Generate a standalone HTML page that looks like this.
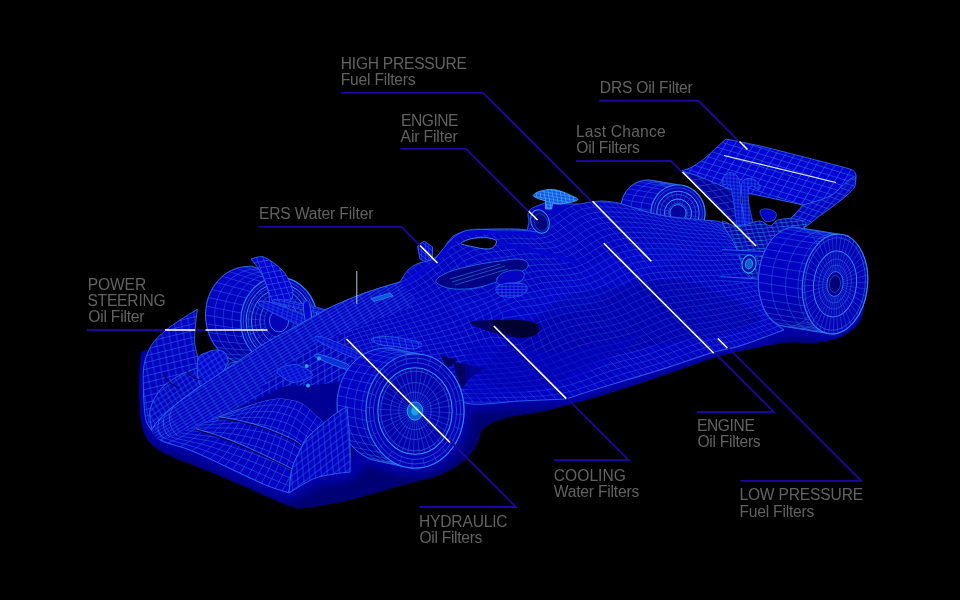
<!DOCTYPE html>
<html><head><meta charset="utf-8"><title>F1 Filters</title>
<style>
html,body{margin:0;padding:0;background:#000;}
body{position:relative;width:960px;height:600px;overflow:hidden;font-family:"Liberation Sans",sans-serif;}
svg{display:block}
#labels{position:absolute;left:0;top:0;width:960px;height:600px;filter:grayscale(1);pointer-events:none}
.lb{position:absolute;white-space:nowrap;font-family:"Liberation Sans",sans-serif;font-size:15.6px;line-height:20px;height:20px;color:#626260}
</style></head><body>
<svg width="960" height="600" viewBox="0 0 960 600">
<rect width="960" height="600" fill="#000"/>
<defs><pattern id="p1" width="7.25" height="7.25" patternUnits="userSpaceOnUse" patternTransform="matrix(0.9397 -0.3420 0.5736 0.8192 0 0)"><path d="M0,3.62H7.25M3.62,0V7.25" stroke="#2a64e2" stroke-width="0.78" stroke-opacity="0.75" fill="none"/></pattern><pattern id="p2" width="7.21" height="6.70" patternUnits="userSpaceOnUse" patternTransform="matrix(0.9703 -0.2419 0.4695 0.8829 0 0)"><path d="M0,3.35H7.21M3.61,0V6.70" stroke="#2a64e2" stroke-width="0.77" stroke-opacity="0.75" fill="none"/></pattern><pattern id="p3" width="9.00" height="2.90" patternUnits="userSpaceOnUse" patternTransform="matrix(0.8572 -0.5150 0.5299 0.8480 0 0)"><path d="M0,1.45H9.00M4.50,0V2.90" stroke="#2a64e2" stroke-width="0.70" stroke-opacity="0.75" fill="none"/></pattern><pattern id="p4" width="8.28" height="6.21" patternUnits="userSpaceOnUse" patternTransform="matrix(0.9563 0.2924 0.5299 -0.8480 0 0)"><path d="M0,3.11H8.28M4.14,0V6.21" stroke="#2a64e2" stroke-width="0.78" stroke-opacity="0.75" fill="none"/></pattern><pattern id="p5" width="8.32" height="5.20" patternUnits="userSpaceOnUse" patternTransform="matrix(0.9781 -0.2079 0.4695 0.8829 0 0)"><path d="M0,2.60H8.32M4.16,0V5.20" stroke="#2a64e2" stroke-width="0.78" stroke-opacity="0.75" fill="none"/></pattern><pattern id="p6" width="7.02" height="6.52" patternUnits="userSpaceOnUse" patternTransform="matrix(0.9703 -0.2419 0.1736 0.9848 0 0)"><path d="M0,3.26H7.02M3.51,0V6.52" stroke="#2a64e2" stroke-width="0.75" stroke-opacity="0.75" fill="none"/></pattern><pattern id="p7" width="10.73" height="7.15" patternUnits="userSpaceOnUse" patternTransform="matrix(0.9563 -0.2924 0.7660 0.6428 0 0)"><path d="M0,3.58H10.73M5.37,0V7.15" stroke="#2a64e2" stroke-width="0.89" stroke-opacity="0.75" fill="none"/></pattern><clipPath id="c8"><path d="M141.0,352.0C140.5,359.7 139.8,367.0 139.5,375.0C139.2,383.0 139.1,391.7 139.5,400.0C139.9,408.3 140.2,417.8 142.0,425.0C143.8,432.2 145.3,437.8 150.0,443.0C154.7,448.2 161.7,451.8 170.0,456.0C178.3,460.2 191.7,464.7 200.0,468.0C208.3,471.3 211.7,472.5 220.0,476.0C228.3,479.5 241.7,485.3 250.0,489.0C258.3,492.7 263.0,495.0 270.0,498.0C277.0,501.0 286.2,505.3 292.0,507.0C297.8,508.7 295.3,509.2 305.0,508.0C314.7,506.8 334.2,503.7 350.0,500.0C365.8,496.3 385.0,490.2 400.0,486.0C415.0,481.8 429.2,479.3 440.0,475.0C450.8,470.7 458.7,465.5 465.0,460.0C471.3,454.5 474.8,447.3 478.0,442.0C481.2,436.7 479.3,432.0 484.0,428.0C488.7,424.0 496.7,420.7 506.0,418.0C515.3,415.3 529.8,414.2 540.0,412.0C550.2,409.8 557.0,407.7 567.0,405.0C577.0,402.3 586.2,400.2 600.0,396.0C613.8,391.8 631.2,386.3 650.0,380.0C668.8,373.7 697.2,363.0 713.0,358.0C728.8,353.0 733.0,352.5 745.0,350.0C757.0,347.5 773.8,344.2 785.0,343.0C796.2,341.8 803.2,343.8 812.0,343.0C820.8,342.2 830.7,340.8 838.0,338.0C845.3,335.2 851.8,330.3 856.0,326.0C860.2,321.7 861.7,317.2 863.0,312.0C864.3,306.8 863.7,300.7 864.0,295.0C859.3,280.0 854.7,265.0 850.0,250.0C833.3,245.0 816.7,240.0 800.0,235.0C766.7,256.7 733.3,278.3 700.0,300.0C633.3,316.7 566.7,333.3 500.0,350.0C433.3,360.0 366.7,370.0 300.0,380.0C266.7,363.3 233.3,346.7 200.0,330.0C180.3,337.3 160.7,344.7 141.0,352.0Z"/></clipPath><filter id="gblur" x="-5%" y="-5%" width="110%" height="110%"><feGaussianBlur stdDeviation="3.5"/></filter><clipPath id="c9"><path d="M704.7,209.2C704.9,210.4 705.0,211.7 705.0,212.9C705.0,214.1 705.0,215.3 704.8,216.5C704.7,217.8 704.5,219.0 704.2,220.1C703.9,221.3 703.5,222.5 703.1,223.6C702.7,224.7 702.2,225.8 701.6,226.9C701.0,228.0 700.4,229.0 699.7,229.9C699.0,230.9 698.2,231.8 697.4,232.7C696.5,233.6 695.7,234.4 694.7,235.1C693.8,235.9 692.8,236.6 691.8,237.2C690.8,237.8 689.8,238.3 688.7,238.8C687.6,239.3 686.5,239.7 685.4,240.0C684.2,240.3 683.1,240.6 681.9,240.7C680.7,240.9 679.5,241.0 678.4,241.0C677.2,241.0 681.0,241.7 674.8,240.8C668.7,239.8 647.5,236.2 641.4,235.1C635.2,233.9 639.1,234.4 638.0,233.9C636.9,233.4 635.8,232.9 634.8,232.3C633.8,231.7 632.8,231.0 631.8,230.3C630.9,229.5 630.0,228.7 629.2,227.9C628.3,227.0 627.5,226.1 626.8,225.1C626.1,224.2 625.4,223.1 624.8,222.1C624.2,221.0 623.6,219.9 623.2,218.8C622.7,217.7 622.3,216.5 622.0,215.3C621.7,214.2 621.4,213.0 621.3,211.8C621.1,210.6 621.0,209.3 621.0,208.1C621.0,206.9 621.0,205.7 621.2,204.5C621.3,203.2 621.5,202.0 621.8,200.9C622.1,199.7 622.5,198.5 622.9,197.4C623.3,196.3 623.8,195.2 624.4,194.1C625.0,193.0 625.6,192.0 626.3,191.1C627.0,190.1 627.8,189.2 628.6,188.3C629.5,187.4 630.3,186.6 631.3,185.9C632.2,185.1 633.2,184.4 634.2,183.8C635.2,183.2 636.2,182.7 637.3,182.2C638.4,181.7 639.5,181.3 640.6,181.0C641.8,180.7 642.9,180.4 644.1,180.3C645.3,180.1 646.5,180.0 647.6,180.0C648.8,180.0 645.0,179.3 651.2,180.2C657.3,181.2 678.5,184.8 684.6,185.9C690.8,187.1 686.9,186.6 688.0,187.1C689.1,187.6 690.2,188.1 691.2,188.7C692.2,189.3 693.2,190.0 694.2,190.7C695.1,191.5 696.0,192.3 696.8,193.1C697.7,194.0 698.5,194.9 699.2,195.9C699.9,196.8 700.6,197.9 701.2,198.9C701.8,200.0 702.4,201.1 702.8,202.2C703.3,203.3 703.7,204.5 704.0,205.7C704.3,206.8 704.6,208.0 704.7,209.2Z"/></clipPath><linearGradient id="g10" x1="0.3" y1="0" x2="0.5" y2="1"><stop offset="0" stop-color="#0303cc"/><stop offset="0.55" stop-color="#0202bc"/><stop offset="1" stop-color="#01019a"/></linearGradient><pattern id="p11" width="8.55" height="7.32" patternUnits="userSpaceOnUse" patternTransform="matrix(0.7071 0.7071 0.9848 -0.1736 0 0)"><path d="M0,3.66H8.55M4.27,0V7.32" stroke="#2a64e2" stroke-width="0.92" stroke-opacity="0.6" fill="none"/></pattern><pattern id="p12" width="6.39" height="5.32" patternUnits="userSpaceOnUse" patternTransform="matrix(0.6428 -0.7660 0.9397 0.3420 0 0)"><path d="M0,2.66H6.39M3.19,0V5.32" stroke="#2a64e2" stroke-width="0.80" stroke-opacity="0.75" fill="none"/></pattern><pattern id="p13" width="3.53" height="3.53" patternUnits="userSpaceOnUse" patternTransform="matrix(0.9962 0.0872 0.0349 0.9994 0 0)"><path d="M0,1.76H3.53M1.76,0V3.53" stroke="#2a64e2" stroke-width="0.76" stroke-opacity="0.75" fill="none"/></pattern><clipPath id="c14"><path d="M228.0,366.0C229.7,361.0 233.5,364.0 240.0,360.0C246.5,356.0 257.8,347.5 267.0,342.0C276.2,336.5 285.3,332.3 295.0,327.0C304.7,321.7 314.7,315.2 325.0,310.0C335.3,304.8 347.8,299.7 357.0,296.0C366.2,292.3 372.8,290.3 380.0,288.0C387.2,285.7 393.3,284.0 400.0,282.0C402.7,278.0 405.2,273.0 408.0,270.0C410.8,267.0 413.8,265.5 417.0,264.0C420.2,262.5 424.3,261.8 427.0,261.0C429.7,260.2 430.5,260.7 433.0,259.0C435.5,257.3 439.5,253.8 442.0,251.0C444.5,248.2 445.8,244.7 448.0,242.0C450.2,239.3 451.8,236.8 455.0,235.0C458.2,233.2 462.8,231.9 467.0,231.0C471.2,230.1 475.8,229.8 480.0,229.5C484.2,229.2 485.8,229.1 492.0,229.0C498.2,228.9 511.2,228.8 517.0,229.0C522.8,229.2 523.7,229.7 527.0,230.0C527.7,227.3 528.8,224.7 529.0,222.0C529.2,219.3 527.7,216.2 528.0,214.0C528.3,211.8 529.5,210.3 531.0,209.0C532.5,207.7 534.7,207.0 537.0,206.0C539.3,205.0 542.3,204.0 545.0,203.0C555.7,203.3 569.5,204.2 577.0,204.0C584.5,203.8 585.8,202.5 590.0,202.0C594.2,201.5 598.3,201.0 602.0,201.0C605.7,201.0 608.7,201.5 612.0,202.0C615.3,202.5 614.0,201.8 622.0,204.0C630.0,206.2 646.5,212.3 660.0,215.0C673.5,217.7 693.0,218.8 703.0,220.0C713.0,221.2 713.8,220.0 720.0,222.0C726.2,224.0 734.0,228.0 740.0,232.0C746.0,236.0 752.3,241.0 756.0,246.0C759.7,251.0 761.3,256.0 762.0,262.0C762.7,268.0 759.5,273.7 760.0,282.0C760.5,290.3 761.0,304.0 765.0,312.0C769.0,320.0 777.7,324.0 784.0,330.0C769.3,335.3 751.8,342.2 740.0,346.0C728.2,349.8 726.3,348.5 713.0,352.5C699.7,356.5 678.8,364.1 660.0,370.0C641.2,375.9 615.7,383.2 600.0,388.0C584.3,392.8 577.3,395.3 566.0,399.0C550.7,399.7 536.8,400.3 520.0,401.0C503.2,401.7 478.3,406.5 465.0,403.0C451.7,399.5 450.8,387.2 440.0,380.0C429.2,372.8 413.3,362.5 400.0,360.0C386.7,357.5 370.0,360.0 360.0,365.0C350.0,370.0 344.2,383.3 340.0,390.0C335.8,396.7 341.7,401.7 335.0,405.0C328.3,408.3 312.5,410.0 300.0,410.0C287.5,410.0 271.7,408.3 260.0,405.0C248.3,401.7 235.3,396.5 230.0,390.0C224.7,383.5 226.3,371.0 228.0,366.0Z"/></clipPath><pattern id="p15" width="4.00" height="3.00" patternUnits="userSpaceOnUse" patternTransform="matrix(1.0000 0.0000 0.0000 1.0000 0 0)"><path d="M0,1.50H4.00M2.00,0V3.00" stroke="#2a64e2" stroke-width="0.75" stroke-opacity="0.7" fill="none"/></pattern><pattern id="p16" width="4.26" height="3.19" patternUnits="userSpaceOnUse" patternTransform="matrix(0.9848 0.1736 0.1736 0.9848 0 0)"><path d="M0,1.60H4.26M2.13,0V3.19" stroke="#5cc0ff" stroke-width="0.80" stroke-opacity="0.7" fill="none"/></pattern><pattern id="p17" width="4.57" height="4.57" patternUnits="userSpaceOnUse" patternTransform="matrix(0.7660 0.6428 0.0000 1.0000 0 0)"><path d="M0,2.28H4.57M2.28,0V4.57" stroke="#2a64e2" stroke-width="0.98" stroke-opacity="0.7" fill="none"/></pattern><pattern id="p18" width="5.18" height="4.14" patternUnits="userSpaceOnUse" patternTransform="matrix(0.9962 -0.0872 0.3420 0.9397 0 0)"><path d="M0,2.07H5.18M2.59,0V4.14" stroke="#2aa0f0" stroke-width="0.78" stroke-opacity="0.6" fill="none"/></pattern><clipPath id="c19"><path d="M867.3,287.4C867.1,289.6 866.8,291.7 866.4,293.9C866.0,296.0 865.5,298.1 864.9,300.2C864.3,302.2 863.6,304.2 862.9,306.2C862.1,308.1 861.3,310.0 860.4,311.8C859.5,313.6 858.5,315.3 857.5,317.0C856.4,318.6 855.3,320.1 854.2,321.6C853.0,323.0 851.8,324.3 850.5,325.5C849.3,326.7 848.0,327.8 846.6,328.8C845.3,329.7 843.9,330.5 842.5,331.2C841.2,331.9 839.7,332.5 838.3,332.9C836.9,333.3 835.5,333.6 834.0,333.7C832.6,333.9 838.5,335.0 829.8,333.7C821.0,332.4 790.3,327.5 781.6,325.9C772.9,324.3 778.9,324.9 777.6,324.2C776.3,323.4 775.0,322.6 773.8,321.6C772.6,320.7 771.4,319.6 770.3,318.4C769.2,317.2 768.2,315.8 767.2,314.4C766.2,312.9 765.3,311.4 764.4,309.8C763.6,308.1 762.9,306.4 762.2,304.6C761.5,302.8 760.9,300.9 760.4,298.9C759.9,297.0 759.5,294.9 759.1,292.9C758.8,290.8 758.6,288.7 758.4,286.6C758.3,284.5 758.2,282.3 758.3,280.1C758.3,278.0 758.5,275.8 758.7,273.6C758.9,271.4 759.2,269.3 759.6,267.1C760.0,265.0 760.5,262.9 761.1,260.8C761.7,258.8 762.4,256.8 763.1,254.8C763.9,252.9 764.7,251.0 765.6,249.2C766.5,247.4 767.5,245.7 768.5,244.0C769.6,242.4 770.7,240.9 771.8,239.4C773.0,238.0 774.2,236.7 775.5,235.5C776.7,234.3 778.0,233.2 779.4,232.2C780.7,231.3 782.1,230.5 783.5,229.8C784.8,229.1 786.3,228.5 787.7,228.1C789.1,227.7 790.5,227.4 792.0,227.3C793.4,227.1 787.5,226.0 796.2,227.3C805.0,228.6 835.7,233.5 844.4,235.1C853.1,236.7 847.1,236.1 848.4,236.8C849.7,237.6 851.0,238.4 852.2,239.4C853.4,240.3 854.6,241.4 855.7,242.6C856.8,243.8 857.8,245.2 858.8,246.6C859.8,248.1 860.7,249.6 861.6,251.2C862.4,252.9 863.1,254.6 863.8,256.4C864.5,258.2 865.1,260.1 865.6,262.1C866.1,264.0 866.5,266.1 866.9,268.1C867.2,270.2 867.4,272.3 867.6,274.4C867.7,276.5 867.8,278.7 867.7,280.9C867.7,283.0 867.5,285.2 867.3,287.4Z"/></clipPath><linearGradient id="g20" x1="0.3" y1="0" x2="0.5" y2="1"><stop offset="0" stop-color="#0303cc"/><stop offset="0.55" stop-color="#0202bc"/><stop offset="1" stop-color="#01019a"/></linearGradient><clipPath id="c21"><path d="M317.2,321.0C317.2,322.9 317.1,324.8 316.9,326.7C316.7,328.6 316.4,330.5 315.9,332.3C315.5,334.1 315.0,335.9 314.3,337.7C313.7,339.5 313.0,341.2 312.1,342.8C311.3,344.5 310.4,346.1 309.3,347.6C308.3,349.1 307.2,350.5 306.0,351.9C304.9,353.2 303.6,354.5 302.3,355.6C301.0,356.8 299.6,357.9 298.1,358.8C296.7,359.8 295.2,360.6 293.6,361.3C292.1,362.1 290.5,362.7 288.9,363.2C287.3,363.7 285.6,364.0 284.0,364.3C282.3,364.5 280.7,364.6 279.0,364.6C277.3,364.6 281.0,364.7 274.0,364.3C267.0,363.8 244.0,362.6 237.0,361.8C230.0,361.1 233.4,360.6 231.7,359.8C230.0,359.0 228.4,358.1 226.8,357.0C225.1,355.9 223.6,354.8 222.1,353.5C220.7,352.2 219.3,350.8 217.9,349.3C216.6,347.8 215.4,346.2 214.3,344.5C213.2,342.9 212.1,341.1 211.2,339.2C210.3,337.4 209.4,335.5 208.7,333.6C208.0,331.6 207.4,329.6 206.9,327.6C206.5,325.5 206.1,323.4 205.9,321.3C205.6,319.2 205.5,317.1 205.5,315.0C205.5,312.9 205.6,310.8 205.9,308.7C206.1,306.6 206.5,304.5 206.9,302.4C207.4,300.4 208.0,298.4 208.7,296.4C209.4,294.5 210.3,292.6 211.2,290.8C212.1,288.9 213.2,287.1 214.3,285.5C215.4,283.8 216.6,282.2 217.9,280.7C219.3,279.2 220.7,277.8 222.1,276.5C223.6,275.2 225.1,274.1 226.7,273.0C228.4,271.9 230.0,271.0 231.7,270.2C233.4,269.4 235.2,268.7 237.0,268.2C238.8,267.6 240.6,267.2 242.5,266.9C244.3,266.6 246.2,266.5 248.0,266.5C249.8,266.5 246.7,264.9 253.5,266.9C260.4,269.0 282.2,276.5 288.9,278.8C295.6,281.1 292.1,279.9 293.6,280.7C295.2,281.4 296.7,282.2 298.1,283.2C299.6,284.1 301.0,285.2 302.3,286.4C303.6,287.5 304.9,288.8 306.0,290.1C307.2,291.5 308.3,292.9 309.3,294.4C310.4,295.9 311.3,297.5 312.1,299.2C313.0,300.8 313.7,302.5 314.3,304.3C315.0,306.1 315.5,307.9 315.9,309.7C316.4,311.5 316.7,313.4 316.9,315.3C317.1,317.2 317.2,319.1 317.2,321.0Z"/></clipPath><linearGradient id="g22" x1="0.3" y1="0" x2="0.5" y2="1"><stop offset="0" stop-color="#0303cc"/><stop offset="0.55" stop-color="#0202bc"/><stop offset="1" stop-color="#01019a"/></linearGradient><pattern id="p23" width="6.09" height="6.09" patternUnits="userSpaceOnUse" patternTransform="matrix(0.9848 -0.1736 0.3420 0.9397 0 0)"><path d="M0,3.05H6.09M3.05,0V6.09" stroke="#2a64e2" stroke-width="0.76" stroke-opacity="0.75" fill="none"/></pattern><pattern id="p24" width="5.11" height="3.07" patternUnits="userSpaceOnUse" patternTransform="matrix(0.9272 0.3746 -0.1736 0.9848 0 0)"><path d="M0,1.53H5.11M2.56,0V3.07" stroke="#2a64e2" stroke-width="0.77" stroke-opacity="0.7" fill="none"/></pattern><pattern id="p25" width="5.00" height="2.50" patternUnits="userSpaceOnUse" patternTransform="matrix(0.9781 0.2079 -0.1736 0.9848 0 0)"><path d="M0,1.25H5.00M2.50,0V2.50" stroke="#2a64e2" stroke-width="0.75" stroke-opacity="0.7" fill="none"/></pattern><pattern id="p26" width="5.02" height="5.02" patternUnits="userSpaceOnUse" patternTransform="matrix(0.8192 -0.5736 0.5000 0.8660 0 0)"><path d="M0,2.51H5.02M2.51,0V5.02" stroke="#2a64e2" stroke-width="0.75" stroke-opacity="0.75" fill="none"/></pattern><pattern id="p27" width="5.02" height="5.02" patternUnits="userSpaceOnUse" patternTransform="matrix(0.8192 -0.5736 0.5000 0.8660 0 0)"><path d="M0,2.51H5.02M2.51,0V5.02" stroke="#2a64e2" stroke-width="0.75" stroke-opacity="0.75" fill="none"/></pattern><pattern id="p28" width="7.93" height="6.80" patternUnits="userSpaceOnUse" patternTransform="matrix(0.8660 -0.5000 0.0349 0.9994 0 0)"><path d="M0,3.40H7.93M3.96,0V6.80" stroke="#2a64e2" stroke-width="0.85" stroke-opacity="0.8" fill="none"/></pattern><clipPath id="c29"><path d="M152.0,431.0C155.0,434.2 155.2,437.5 161.0,440.5C166.8,443.5 178.8,445.9 187.0,449.0C195.2,452.1 202.3,455.5 210.0,459.0C217.7,462.5 226.3,466.8 233.0,470.0C239.7,473.2 244.2,475.3 250.0,478.0C255.8,480.7 261.5,483.5 268.0,486.0C274.5,488.5 282.0,490.7 289.0,493.0C289.9,485.3 290.1,476.7 291.7,470.0C293.3,463.3 296.0,458.5 298.7,453.0C301.4,447.5 303.8,442.0 308.0,437.0C312.2,432.0 318.7,427.7 324.0,423.0C321.7,420.7 320.5,419.2 317.0,416.0C313.5,412.8 307.2,406.7 303.0,404.0C298.8,401.3 295.8,400.9 292.0,400.0C288.2,399.1 284.0,398.5 280.0,398.5C276.0,398.5 271.9,399.2 268.0,400.0C264.1,400.8 261.4,401.5 256.7,403.0C252.0,404.5 246.3,406.8 240.0,409.0C233.7,411.2 226.0,413.3 219.0,416.0C212.0,418.7 205.3,422.2 198.0,425.0C190.7,427.8 182.7,432.0 175.0,433.0C167.3,434.0 159.7,431.7 152.0,431.0Z"/></clipPath><pattern id="p30" width="5.11" height="3.07" patternUnits="userSpaceOnUse" patternTransform="matrix(0.9272 0.3746 -0.1736 0.9848 0 0)"><path d="M0,1.53H5.11M2.56,0V3.07" stroke="#2a64e2" stroke-width="0.77" stroke-opacity="0.6" fill="none"/></pattern><pattern id="p31" width="5.02" height="3.01" patternUnits="userSpaceOnUse" patternTransform="matrix(0.9063 -0.4226 0.5000 0.8660 0 0)"><path d="M0,1.51H5.02M2.51,0V3.01" stroke="#2a64e2" stroke-width="0.75" stroke-opacity="0.6" fill="none"/></pattern><clipPath id="c32"><path d="M464.0,411.0C464.0,413.5 463.9,416.0 463.6,418.4C463.3,420.9 462.9,423.4 462.3,425.8C461.8,428.1 461.1,430.5 460.3,432.8C459.5,435.1 458.5,437.4 457.4,439.5C456.4,441.6 455.2,443.7 453.9,445.7C452.6,447.7 451.2,449.6 449.6,451.3C448.1,453.1 446.5,454.7 444.8,456.2C443.1,457.7 441.3,459.1 439.5,460.4C437.7,461.6 435.7,462.7 433.8,463.7C431.8,464.6 429.7,465.4 427.7,466.1C425.6,466.7 423.5,467.2 421.4,467.5C419.3,467.8 417.1,468.0 415.0,468.0C412.9,468.0 415.6,468.8 408.6,467.5C401.7,466.2 380.2,461.7 373.3,460.1C366.4,458.4 369.2,458.6 367.2,457.7C365.3,456.7 363.3,455.6 361.5,454.4C359.7,453.1 357.9,451.7 356.2,450.2C354.5,448.7 352.9,447.1 351.4,445.3C349.8,443.6 348.4,441.7 347.1,439.7C345.8,437.7 344.6,435.6 343.6,433.5C342.5,431.4 341.5,429.1 340.7,426.8C339.9,424.5 339.2,422.1 338.7,419.8C338.1,417.4 337.7,414.9 337.4,412.4C337.1,410.0 337.0,407.5 337.0,405.0C337.0,402.5 337.1,400.0 337.4,397.6C337.7,395.1 338.1,392.6 338.7,390.2C339.2,387.9 339.9,385.5 340.7,383.2C341.5,380.9 342.5,378.6 343.6,376.5C344.6,374.4 345.8,372.3 347.1,370.3C348.4,368.3 349.8,366.4 351.4,364.7C352.9,362.9 354.5,361.3 356.2,359.8C357.9,358.3 359.7,356.9 361.5,355.6C363.3,354.4 365.3,353.3 367.2,352.3C369.2,351.4 371.3,350.6 373.3,349.9C375.4,349.3 377.5,348.8 379.6,348.5C381.7,348.2 383.9,348.0 386.0,348.0C388.1,348.0 385.4,347.2 392.4,348.5C399.3,349.8 420.8,354.3 427.7,355.9C434.6,357.6 431.8,357.4 433.8,358.3C435.7,359.3 437.7,360.4 439.5,361.6C441.3,362.9 443.1,364.3 444.8,365.8C446.5,367.3 448.1,368.9 449.6,370.7C451.2,372.4 452.6,374.3 453.9,376.3C455.2,378.3 456.4,380.4 457.4,382.5C458.5,384.6 459.5,386.9 460.3,389.2C461.1,391.5 461.8,393.9 462.3,396.2C462.9,398.6 463.3,401.1 463.6,403.6C463.9,406.0 464.0,408.5 464.0,411.0Z"/></clipPath><linearGradient id="g33" x1="0.3" y1="0" x2="0.5" y2="1"><stop offset="0" stop-color="#0303cc"/><stop offset="0.55" stop-color="#0202bc"/><stop offset="1" stop-color="#01019a"/></linearGradient><pattern id="p34" width="6.52" height="3.80" patternUnits="userSpaceOnUse" patternTransform="matrix(0.9903 0.1392 0.2588 0.9659 0 0)"><path d="M0,1.90H6.52M3.26,0V3.80" stroke="#2a64e2" stroke-width="0.81" stroke-opacity="0.8" fill="none"/></pattern><pattern id="p35" width="7.15" height="7.15" patternUnits="userSpaceOnUse" patternTransform="matrix(0.7880 -0.6157 0.0872 0.9962 0 0)"><path d="M0,3.58H7.15M3.58,0V7.15" stroke="#2a64e2" stroke-width="0.89" stroke-opacity="0.75" fill="none"/></pattern></defs><path d="M141.0,352.0C140.5,359.7 139.8,367.0 139.5,375.0C139.2,383.0 139.1,391.7 139.5,400.0C139.9,408.3 140.2,417.8 142.0,425.0C143.8,432.2 145.3,437.8 150.0,443.0C154.7,448.2 161.7,451.8 170.0,456.0C178.3,460.2 191.7,464.7 200.0,468.0C208.3,471.3 211.7,472.5 220.0,476.0C228.3,479.5 241.7,485.3 250.0,489.0C258.3,492.7 263.0,495.0 270.0,498.0C277.0,501.0 286.2,505.3 292.0,507.0C297.8,508.7 295.3,509.2 305.0,508.0C314.7,506.8 334.2,503.7 350.0,500.0C365.8,496.3 385.0,490.2 400.0,486.0C415.0,481.8 429.2,479.3 440.0,475.0C450.8,470.7 458.7,465.5 465.0,460.0C471.3,454.5 474.8,447.3 478.0,442.0C481.2,436.7 479.3,432.0 484.0,428.0C488.7,424.0 496.7,420.7 506.0,418.0C515.3,415.3 529.8,414.2 540.0,412.0C550.2,409.8 557.0,407.7 567.0,405.0C577.0,402.3 586.2,400.2 600.0,396.0C613.8,391.8 631.2,386.3 650.0,380.0C668.8,373.7 697.2,363.0 713.0,358.0C728.8,353.0 733.0,352.5 745.0,350.0C757.0,347.5 773.8,344.2 785.0,343.0C796.2,341.8 803.2,343.8 812.0,343.0C820.8,342.2 830.7,340.8 838.0,338.0C845.3,335.2 851.8,330.3 856.0,326.0C860.2,321.7 861.7,317.2 863.0,312.0C864.3,306.8 863.7,300.7 864.0,295.0C859.3,280.0 854.7,265.0 850.0,250.0C833.3,245.0 816.7,240.0 800.0,235.0C766.7,256.7 733.3,278.3 700.0,300.0C633.3,316.7 566.7,333.3 500.0,350.0C433.3,360.0 366.7,370.0 300.0,380.0C266.7,363.3 233.3,346.7 200.0,330.0C180.3,337.3 160.7,344.7 141.0,352.0Z" fill="#000074"  /><g clip-path="url(#c8)"><path d="M143.0,350.0 L143.0,370.0 L143.5,420.0 L152.0,431.0 L161.0,440.5 L187.0,449.0 L233.0,470.0 L268.0,486.0 L289.0,493.0 L313.0,479.0 L350.0,472.0 L362.0,455.0 L385.0,462.0 L405.0,467.0 L420.0,467.0 L438.0,461.0 L452.0,448.0 L461.0,430.0 L465.0,403.0 L520.0,401.0 L566.0,399.0 L600.0,388.0 L660.0,370.0 L713.0,352.5 L740.0,346.0 L784.0,330.0 L810.0,330.0 L826.0,335.0 L842.0,333.0 L856.0,322.0 L865.0,305.0" fill="none" stroke="#0000a6" stroke-width="17" stroke-linejoin="round" filter="url(#gblur)"/></g><path d="M195.0,309.0 L207.0,309.0 L207.0,335.0 L217.0,351.0 L199.0,362.0 L193.5,345.0Z" fill="#000"  /><g><path d="M704.7,209.2C704.9,210.4 705.0,211.7 705.0,212.9C705.0,214.1 705.0,215.3 704.8,216.5C704.7,217.8 704.5,219.0 704.2,220.1C703.9,221.3 703.5,222.5 703.1,223.6C702.7,224.7 702.2,225.8 701.6,226.9C701.0,228.0 700.4,229.0 699.7,229.9C699.0,230.9 698.2,231.8 697.4,232.7C696.5,233.6 695.7,234.4 694.7,235.1C693.8,235.9 692.8,236.6 691.8,237.2C690.8,237.8 689.8,238.3 688.7,238.8C687.6,239.3 686.5,239.7 685.4,240.0C684.2,240.3 683.1,240.6 681.9,240.7C680.7,240.9 679.5,241.0 678.4,241.0C677.2,241.0 681.0,241.7 674.8,240.8C668.7,239.8 647.5,236.2 641.4,235.1C635.2,233.9 639.1,234.4 638.0,233.9C636.9,233.4 635.8,232.9 634.8,232.3C633.8,231.7 632.8,231.0 631.8,230.3C630.9,229.5 630.0,228.7 629.2,227.9C628.3,227.0 627.5,226.1 626.8,225.1C626.1,224.2 625.4,223.1 624.8,222.1C624.2,221.0 623.6,219.9 623.2,218.8C622.7,217.7 622.3,216.5 622.0,215.3C621.7,214.2 621.4,213.0 621.3,211.8C621.1,210.6 621.0,209.3 621.0,208.1C621.0,206.9 621.0,205.7 621.2,204.5C621.3,203.2 621.5,202.0 621.8,200.9C622.1,199.7 622.5,198.5 622.9,197.4C623.3,196.3 623.8,195.2 624.4,194.1C625.0,193.0 625.6,192.0 626.3,191.1C627.0,190.1 627.8,189.2 628.6,188.3C629.5,187.4 630.3,186.6 631.3,185.9C632.2,185.1 633.2,184.4 634.2,183.8C635.2,183.2 636.2,182.7 637.3,182.2C638.4,181.7 639.5,181.3 640.6,181.0C641.8,180.7 642.9,180.4 644.1,180.3C645.3,180.1 646.5,180.0 647.6,180.0C648.8,180.0 645.0,179.3 651.2,180.2C657.3,181.2 678.5,184.8 684.6,185.9C690.8,187.1 686.9,186.6 688.0,187.1C689.1,187.6 690.2,188.1 691.2,188.7C692.2,189.3 693.2,190.0 694.2,190.7C695.1,191.5 696.0,192.3 696.8,193.1C697.7,194.0 698.5,194.9 699.2,195.9C699.9,196.8 700.6,197.9 701.2,198.9C701.8,200.0 702.4,201.1 702.8,202.2C703.3,203.3 703.7,204.5 704.0,205.7C704.3,206.8 704.6,208.0 704.7,209.2Z" fill="url(#g10)" stroke="#2a66ea" stroke-width="1"/><g clip-path="url(#c9)" fill="none" stroke="#2a64e2" stroke-width="0.65" stroke-opacity="0.8"><ellipse cx="648.0" cy="208.0" rx="27.0" ry="28.0" transform="rotate(-8 648.0 208.0)"/><ellipse cx="657.9" cy="209.7" rx="27.0" ry="28.0" transform="rotate(-8 657.9 209.7)"/><ellipse cx="667.8" cy="211.3" rx="27.0" ry="28.0" transform="rotate(-8 667.8 211.3)"/><path d="M674.7,204.2L704.7,209.2M674.9,210.5L704.9,215.5M673.8,216.6L703.8,221.6M671.3,222.3L701.3,227.3M667.7,227.3L697.7,232.3M663.1,231.4L693.1,236.4M657.7,234.2L687.7,239.2M651.9,235.7L681.9,240.7M645.8,235.9L675.8,240.9M639.9,234.6L669.9,239.6M634.4,232.0L664.4,237.0M629.5,228.2L659.5,233.2M625.6,223.4L655.6,228.4M622.8,217.8L652.8,222.8M621.3,211.8L651.3,216.8M621.1,205.5L651.1,210.5M622.2,199.4L652.2,204.4M624.7,193.7L654.7,198.7M628.3,188.7L658.3,193.7M632.9,184.6L662.9,189.6M638.3,181.8L668.3,186.8M644.1,180.3L674.1,185.3M650.2,180.1L680.2,185.1M656.1,181.4L686.1,186.4M661.6,184.0L691.6,189.0M666.5,187.8L696.5,192.8M670.4,192.6L700.4,197.6M673.2,198.2L703.2,203.2"/></g><ellipse cx="678.0" cy="213.0" rx="27.0" ry="28.0" transform="rotate(-8 678.0 213.0)" fill="#0202b6" stroke="#2a98f4" stroke-width="1.2" stroke-opacity="0.85"/><ellipse cx="678.0" cy="213.0" rx="24.3" ry="25.2" transform="rotate(-8 678.0 213.0)" fill="none" stroke="#2a64e2" stroke-width="0.7" stroke-opacity="1"/><ellipse cx="678.0" cy="213.0" rx="21.1" ry="21.8" transform="rotate(-8 678.0 213.0)" fill="#0202b0" stroke="#2a98f4" stroke-width="1.0" stroke-opacity="1"/><ellipse cx="678.0" cy="213.0" rx="17.8" ry="18.5" transform="rotate(-8 678.0 213.0)" fill="none" stroke="#2a64e2" stroke-width="0.7" stroke-opacity="1"/><ellipse cx="678.0" cy="213.0" rx="13.5" ry="14.0" transform="rotate(-8 678.0 213.0)" fill="none" stroke="#2fb0f8" stroke-width="0.9" stroke-opacity="1"/><ellipse cx="678.0" cy="213.0" rx="9.4" ry="9.8" transform="rotate(-8 678.0 213.0)" fill="none" stroke="#2a64e2" stroke-width="0.7" stroke-opacity="1"/><path d="M687.4,212.3L699.0,211.5M687.3,214.9L698.7,217.2M686.5,217.3L697.0,222.6M685.2,219.4L694.0,227.3M683.4,221.1L690.0,231.1M681.2,222.3L685.0,233.6M678.7,222.8L679.7,234.8M676.3,222.6L674.2,234.4M673.9,221.8L668.9,232.6M671.9,220.4L664.3,229.5M670.2,218.5L660.6,225.2M669.1,216.2L658.1,220.1M668.6,213.7L657.0,214.5M668.7,211.1L657.3,208.8M669.5,208.7L659.0,203.4M670.8,206.6L662.0,198.7M672.6,204.9L666.0,194.9M674.8,203.7L671.0,192.4M677.3,203.2L676.3,191.2M679.7,203.4L681.8,191.6M682.1,204.2L687.1,193.4M684.1,205.6L691.7,196.5M685.8,207.5L695.4,200.8M686.9,209.8L697.9,205.9" fill="none" stroke="#2a64e2" stroke-width="0.6" stroke-opacity="0.8"/><ellipse cx="678.0" cy="213.0" rx="8.1" ry="8.4" transform="rotate(-8 678.0 213.0)" fill="#0202a0" stroke="#2fb0f8" stroke-width="0.8" stroke-opacity="1"/></g><path d="M681.0,171.0C687.3,172.3 693.2,173.2 700.0,175.0C706.8,176.8 716.2,179.2 722.0,182.0C727.8,184.8 731.2,186.5 735.0,192.0C738.8,197.5 742.2,207.7 745.0,215.0C747.8,222.3 750.0,230.7 752.0,236.0C754.0,241.3 755.3,243.3 757.0,247.0C731.7,221.7 706.3,196.3 681.0,171.0Z" fill="#00009c" stroke="#2a66ea" stroke-width="0.9" /><path d="M681.0,171.0C687.3,172.3 693.2,173.2 700.0,175.0C706.8,176.8 716.2,179.2 722.0,182.0C727.8,184.8 731.2,186.5 735.0,192.0C738.8,197.5 742.2,207.7 745.0,215.0C747.8,222.3 750.0,230.7 752.0,236.0C754.0,241.3 755.3,243.3 757.0,247.0C731.7,221.7 706.3,196.3 681.0,171.0Z" fill="url(#p11)"/><path d="M681.0,171.0C684.7,169.7 688.0,169.2 692.0,167.0C696.0,164.8 701.0,161.2 705.0,158.0C709.0,154.8 712.5,151.2 716.0,148.0C719.5,144.8 722.7,142.0 726.0,139.0C737.3,141.3 747.7,143.2 760.0,146.0C772.3,148.8 787.5,152.8 800.0,156.0C812.5,159.2 826.3,162.7 835.0,165.0C843.7,167.3 848.5,168.2 852.0,170.0C855.5,171.8 855.7,173.3 856.0,176.0C856.3,178.7 855.7,182.8 854.0,186.0C852.3,189.2 849.7,191.8 846.0,195.0C842.3,198.2 836.7,202.0 832.0,205.0C827.3,208.0 822.8,213.0 818.0,213.0C813.2,213.0 808.0,207.7 803.0,205.0C795.3,203.3 787.7,201.7 780.0,200.0C772.3,198.3 764.5,196.5 757.0,195.0C749.5,193.5 742.0,193.0 735.0,191.0C728.0,189.0 721.2,185.5 715.0,183.0C708.8,180.5 703.7,178.0 698.0,176.0C692.3,174.0 686.7,172.7 681.0,171.0Z" fill="#0404d2" stroke="#2a66ea" stroke-width="0.9" /><path d="M681.0,171.0C684.7,169.7 688.0,169.2 692.0,167.0C696.0,164.8 701.0,161.2 705.0,158.0C709.0,154.8 712.5,151.2 716.0,148.0C719.5,144.8 722.7,142.0 726.0,139.0C737.3,141.3 747.7,143.2 760.0,146.0C772.3,148.8 787.5,152.8 800.0,156.0C812.5,159.2 826.3,162.7 835.0,165.0C843.7,167.3 848.5,168.2 852.0,170.0C855.5,171.8 855.7,173.3 856.0,176.0C856.3,178.7 855.7,182.8 854.0,186.0C852.3,189.2 849.7,191.8 846.0,195.0C842.3,198.2 836.7,202.0 832.0,205.0C827.3,208.0 822.8,213.0 818.0,213.0C813.2,213.0 808.0,207.7 803.0,205.0C795.3,203.3 787.7,201.7 780.0,200.0C772.3,198.3 764.5,196.5 757.0,195.0C749.5,193.5 742.0,193.0 735.0,191.0C728.0,189.0 721.2,185.5 715.0,183.0C708.8,180.5 703.7,178.0 698.0,176.0C692.3,174.0 686.7,172.7 681.0,171.0Z" fill="url(#p4)"/><path d="M803.0,205.0C812.0,202.0 821.8,200.5 830.0,196.0C838.2,191.5 847.8,179.7 852.0,178.0C856.2,176.3 856.0,183.0 855.0,186.0C854.0,189.0 849.8,192.5 846.0,196.0C842.2,199.5 836.7,203.5 832.0,207.0C827.3,210.5 822.0,214.0 818.0,217.0C814.0,220.0 811.3,223.0 808.0,225.0C804.7,227.0 801.5,229.5 798.0,229.0C794.5,228.5 790.7,224.3 787.0,222.0C789.7,219.3 792.3,216.8 795.0,214.0C797.7,211.2 800.3,208.0 803.0,205.0Z" fill="#0202c2" stroke="#2a66ea" stroke-width="0.9" /><path d="M803.0,205.0C812.0,202.0 821.8,200.5 830.0,196.0C838.2,191.5 847.8,179.7 852.0,178.0C856.2,176.3 856.0,183.0 855.0,186.0C854.0,189.0 849.8,192.5 846.0,196.0C842.2,199.5 836.7,203.5 832.0,207.0C827.3,210.5 822.0,214.0 818.0,217.0C814.0,220.0 811.3,223.0 808.0,225.0C804.7,227.0 801.5,229.5 798.0,229.0C794.5,228.5 790.7,224.3 787.0,222.0C789.7,219.3 792.3,216.8 795.0,214.0C797.7,211.2 800.3,208.0 803.0,205.0Z" fill="url(#p12)"/><path d="M722.5,185.0C721.8,183.8 722.2,179.1 723.5,177.0C724.8,174.9 727.8,172.7 730.0,172.5C732.2,172.3 735.3,173.9 737.0,176.0C738.7,178.1 739.3,180.6 740.0,185.0C740.7,189.4 740.0,195.0 741.0,202.5C742.0,210.0 746.4,225.0 746.0,230.0C745.6,235.0 740.8,237.1 738.7,232.5C736.7,227.9 735.0,210.0 733.7,202.5C732.4,195.0 732.0,190.6 731.0,187.5C730.0,184.4 728.9,184.4 727.5,184.0C726.1,183.6 723.2,186.2 722.5,185.0Z" fill="#0404d2" stroke="#2a66ea" stroke-width="0.7" /><path d="M722.5,185.0C721.8,183.8 722.2,179.1 723.5,177.0C724.8,174.9 727.8,172.7 730.0,172.5C732.2,172.3 735.3,173.9 737.0,176.0C738.7,178.1 739.3,180.6 740.0,185.0C740.7,189.4 740.0,195.0 741.0,202.5C742.0,210.0 746.4,225.0 746.0,230.0C745.6,235.0 740.8,237.1 738.7,232.5C736.7,227.9 735.0,210.0 733.7,202.5C732.4,195.0 732.0,190.6 731.0,187.5C730.0,184.4 728.9,184.4 727.5,184.0C726.1,183.6 723.2,186.2 722.5,185.0Z" fill="url(#p13)"/><path d="M741.5,185.0C742.1,181.1 743.8,179.6 746.0,178.8C748.2,178.0 752.7,178.8 755.0,180.0C757.3,181.2 759.4,184.3 760.0,186.0C760.6,187.7 759.8,190.0 758.5,190.0C757.2,190.0 754.1,186.2 752.5,186.0C750.9,185.8 749.3,186.2 748.7,189.0C748.1,191.8 747.9,195.7 748.7,202.5C749.5,209.3 754.2,225.2 753.7,230.0C753.2,234.8 747.9,235.6 746.0,231.0C744.1,226.4 743.2,210.2 742.5,202.5C741.8,194.8 740.9,188.9 741.5,185.0Z" fill="#0404d2" stroke="#2a66ea" stroke-width="0.7" /><path d="M741.5,185.0C742.1,181.1 743.8,179.6 746.0,178.8C748.2,178.0 752.7,178.8 755.0,180.0C757.3,181.2 759.4,184.3 760.0,186.0C760.6,187.7 759.8,190.0 758.5,190.0C757.2,190.0 754.1,186.2 752.5,186.0C750.9,185.8 749.3,186.2 748.7,189.0C748.1,191.8 747.9,195.7 748.7,202.5C749.5,209.3 754.2,225.2 753.7,230.0C753.2,234.8 747.9,235.6 746.0,231.0C744.1,226.4 743.2,210.2 742.5,202.5C741.8,194.8 740.9,188.9 741.5,185.0Z" fill="url(#p13)"/><path d="M760.0,211.0C760.5,209.0 765.3,208.7 768.0,209.0C770.7,209.3 775.0,211.2 776.0,213.0C777.0,214.8 775.8,218.7 774.0,220.0C772.2,221.3 767.3,222.5 765.0,221.0C762.7,219.5 759.5,213.0 760.0,211.0Z" fill="#0202c2" stroke="#2a66ea" stroke-width="0.7" /><path d="M724,155.5L836,182.5" stroke="#dfe8ff" stroke-width="1.1" fill="none"/><path d="M228.0,366.0C229.7,361.0 233.5,364.0 240.0,360.0C246.5,356.0 257.8,347.5 267.0,342.0C276.2,336.5 285.3,332.3 295.0,327.0C304.7,321.7 314.7,315.2 325.0,310.0C335.3,304.8 347.8,299.7 357.0,296.0C366.2,292.3 372.8,290.3 380.0,288.0C387.2,285.7 393.3,284.0 400.0,282.0C402.7,278.0 405.2,273.0 408.0,270.0C410.8,267.0 413.8,265.5 417.0,264.0C420.2,262.5 424.3,261.8 427.0,261.0C429.7,260.2 430.5,260.7 433.0,259.0C435.5,257.3 439.5,253.8 442.0,251.0C444.5,248.2 445.8,244.7 448.0,242.0C450.2,239.3 451.8,236.8 455.0,235.0C458.2,233.2 462.8,231.9 467.0,231.0C471.2,230.1 475.8,229.8 480.0,229.5C484.2,229.2 485.8,229.1 492.0,229.0C498.2,228.9 511.2,228.8 517.0,229.0C522.8,229.2 523.7,229.7 527.0,230.0C527.7,227.3 528.8,224.7 529.0,222.0C529.2,219.3 527.7,216.2 528.0,214.0C528.3,211.8 529.5,210.3 531.0,209.0C532.5,207.7 534.7,207.0 537.0,206.0C539.3,205.0 542.3,204.0 545.0,203.0C555.7,203.3 569.5,204.2 577.0,204.0C584.5,203.8 585.8,202.5 590.0,202.0C594.2,201.5 598.3,201.0 602.0,201.0C605.7,201.0 608.7,201.5 612.0,202.0C615.3,202.5 614.0,201.8 622.0,204.0C630.0,206.2 646.5,212.3 660.0,215.0C673.5,217.7 693.0,218.8 703.0,220.0C713.0,221.2 713.8,220.0 720.0,222.0C726.2,224.0 734.0,228.0 740.0,232.0C746.0,236.0 752.3,241.0 756.0,246.0C759.7,251.0 761.3,256.0 762.0,262.0C762.7,268.0 759.5,273.7 760.0,282.0C760.5,290.3 761.0,304.0 765.0,312.0C769.0,320.0 777.7,324.0 784.0,330.0C769.3,335.3 751.8,342.2 740.0,346.0C728.2,349.8 726.3,348.5 713.0,352.5C699.7,356.5 678.8,364.1 660.0,370.0C641.2,375.9 615.7,383.2 600.0,388.0C584.3,392.8 577.3,395.3 566.0,399.0C550.7,399.7 536.8,400.3 520.0,401.0C503.2,401.7 478.3,406.5 465.0,403.0C451.7,399.5 450.8,387.2 440.0,380.0C429.2,372.8 413.3,362.5 400.0,360.0C386.7,357.5 370.0,360.0 360.0,365.0C350.0,370.0 344.2,383.3 340.0,390.0C335.8,396.7 341.7,401.7 335.0,405.0C328.3,408.3 312.5,410.0 300.0,410.0C287.5,410.0 271.7,408.3 260.0,405.0C248.3,401.7 235.3,396.5 230.0,390.0C224.7,383.5 226.3,371.0 228.0,366.0Z" fill="#0202c2" stroke="#2a66ea" stroke-width="0.9" /><path d="M300.0,325.0L302.3,328.3L304.5,331.7L306.7,335.1L308.8,338.5L310.8,341.9L312.7,345.5L314.6,349.0L316.3,352.7L317.9,356.3L319.5,360.0L321.0,363.8L322.5,367.5L324.0,371.2L325.5,375.0L327.1,378.7L328.7,382.3L330.4,386.0L332.3,389.5L334.2,393.1L336.2,396.5L338.3,399.9L340.5,403.3L342.7,406.7L345.0,410.0M303.2,323.2L305.5,326.6L307.8,330.0L310.0,333.5L312.2,336.9L314.2,340.4L316.2,344.0L318.1,347.6L319.8,351.3L321.5,355.0L323.1,358.8L324.7,362.6L326.2,366.4L327.7,370.2L329.3,374.0L330.9,377.7L332.6,381.5L334.3,385.1L336.2,388.8L338.2,392.3L340.3,395.8L342.4,399.3L344.6,402.7L346.9,406.1L349.2,409.5M307.4,320.8L309.8,324.3L312.2,327.7L314.5,331.2L316.7,334.8L318.8,338.4L320.9,342.0L322.8,345.7L324.6,349.4L326.4,353.2L328.0,357.1L329.6,361.0L331.2,364.8L332.8,368.7L334.4,372.6L336.1,376.4L337.8,380.2L339.6,384.0L341.6,387.7L343.6,391.3L345.7,394.9L347.9,398.5L350.2,402.0L352.6,405.4L355.0,408.9M312.6,317.9L315.0,321.5L317.4,325.0L319.8,328.6L322.1,332.2L324.3,335.9L326.4,339.6L328.4,343.4L330.3,347.2L332.1,351.1L333.9,355.1L335.5,359.0L337.2,363.0L338.8,367.0L340.5,371.0L342.2,374.9L344.0,378.8L345.9,382.6L347.9,386.4L350.0,390.1L352.2,393.8L354.5,397.4L356.9,401.0L359.3,404.6L361.8,408.1M318.2,314.8L320.7,318.4L323.2,322.0L325.7,325.7L328.1,329.4L330.4,333.2L332.6,337.0L334.6,340.9L336.6,344.8L338.5,348.8L340.3,352.9L342.0,356.9L343.7,361.0L345.5,365.1L347.2,369.2L349.0,373.2L350.9,377.2L352.8,381.2L354.9,385.0L357.1,388.9L359.4,392.6L361.8,396.3L364.2,400.0L366.8,403.6L369.3,407.3M324.0,311.6L326.6,315.3L329.2,319.1L331.8,322.8L334.3,326.6L336.7,330.5L338.9,334.4L341.1,338.4L343.1,342.4L345.1,346.5L347.0,350.7L348.8,354.8L350.6,359.0L352.3,363.2L354.2,367.4L356.0,371.5L358.0,375.6L360.0,379.7L362.2,383.7L364.5,387.6L366.8,391.4L369.3,395.2L371.9,399.0L374.5,402.7L377.1,406.4M329.7,308.6L332.4,312.4L335.1,316.2L337.8,320.1L340.4,324.0L342.8,327.9L345.2,331.9L347.4,336.0L349.5,340.1L351.6,344.3L353.5,348.6L355.4,352.8L357.3,357.1L359.1,361.4L361.0,365.7L362.9,369.9L365.0,374.1L367.1,378.3L369.3,382.4L371.7,386.4L374.2,390.3L376.7,394.2L379.4,398.0L382.1,401.9L384.8,405.7M335.0,306.0L337.8,309.9L340.6,313.8L343.4,317.7L346.0,321.6L348.5,325.7L351.0,329.8L353.3,333.9L355.5,338.1L357.6,342.4L359.6,346.8L361.6,351.1L363.5,355.5L365.4,359.9L367.4,364.2L369.4,368.6L371.5,372.9L373.7,377.1L376.0,381.2L378.5,385.3L381.0,389.4L383.6,393.3L386.4,397.2L389.2,401.1L392.0,405.0M340.0,303.8L342.9,307.7L345.7,311.7L348.6,315.6L351.3,319.7L353.9,323.8L356.4,327.9L358.8,332.2L361.1,336.5L363.2,340.8L365.3,345.2L367.3,349.7L369.3,354.1L371.3,358.6L373.3,363.0L375.4,367.4L377.6,371.8L379.9,376.1L382.3,380.3L384.8,384.5L387.4,388.6L390.1,392.6L392.9,396.6L395.8,400.5L398.7,404.4M344.9,301.8L347.9,305.8L350.8,309.8L353.7,313.8L356.5,317.9L359.2,322.1L361.8,326.3L364.2,330.6L366.6,334.9L368.8,339.4L371.0,343.8L373.0,348.3L375.1,352.9L377.2,357.4L379.2,361.9L381.4,366.4L383.6,370.8L386.0,375.2L388.4,379.4L391.0,383.7L393.7,387.8L396.5,391.9L399.4,395.9L402.3,399.9L405.3,403.9M349.8,300.0L352.9,304.0L355.9,308.0L358.9,312.1L361.7,316.3L364.5,320.5L367.2,324.7L369.7,329.1L372.1,333.5L374.4,338.0L376.6,342.5L378.7,347.1L380.9,351.7L383.0,356.3L385.1,360.9L387.3,365.4L389.6,369.9L392.0,374.3L394.6,378.6L397.2,382.9L400.0,387.1L402.8,391.3L405.8,395.3L408.8,399.4L411.9,403.4M354.8,298.2L357.9,302.2L361.0,306.3L364.1,310.5L367.0,314.7L369.8,318.9L372.6,323.2L375.2,327.7L377.6,332.1L380.0,336.7L382.3,341.3L384.5,345.9L386.7,350.6L388.8,355.2L391.1,359.9L393.3,364.5L395.7,369.0L398.2,373.5L400.8,377.9L403.5,382.2L406.3,386.5L409.3,390.7L412.3,394.8L415.4,398.9L418.5,403.0M359.8,296.3L363.0,300.4L366.2,304.6L369.3,308.8L372.3,313.0L375.2,317.3L378.0,321.7L380.7,326.2L383.3,330.7L385.7,335.3L388.0,340.0L390.3,344.7L392.6,349.4L394.8,354.2L397.1,358.9L399.5,363.5L401.9,368.1L404.5,372.7L407.1,377.2L409.9,381.5L412.8,385.9L415.9,390.1L419.0,394.3L422.2,398.4L425.4,402.6M364.8,294.3L368.2,298.5L371.4,302.7L374.6,306.9L377.8,311.2L380.8,315.6L383.6,320.1L386.4,324.6L389.0,329.2L391.6,333.9L394.0,338.7L396.3,343.5L398.7,348.3L401.0,353.1L403.4,357.9L405.8,362.6L408.3,367.3L410.9,371.9L413.7,376.4L416.6,380.9L419.6,385.3L422.7,389.6L425.9,393.8L429.2,398.1L432.5,402.3M370.0,292.0L373.4,296.3L376.8,300.6L380.1,304.9L383.3,309.3L386.4,313.7L389.4,318.3L392.3,322.9L395.0,327.6L397.6,332.4L400.1,337.2L402.6,342.1L405.0,347.0L407.4,351.9L409.9,356.8L412.4,361.6L415.0,366.4L417.7,371.1L420.6,375.7L423.6,380.3L426.7,384.7L429.9,389.1L433.2,393.4L436.6,397.7L440.0,402.0M375.3,289.5L378.8,293.9L382.3,298.3L385.7,302.7L389.1,307.2L392.3,311.7L395.4,316.3L398.3,321.1L401.2,325.9L403.9,330.8L406.5,335.7L409.1,340.7L411.6,345.7L414.1,350.7L416.6,355.7L419.3,360.6L422.0,365.5L424.8,370.3L427.8,375.1L430.9,379.7L434.1,384.2L437.4,388.7L440.9,393.1L444.4,397.5L447.9,401.9M380.6,287.0L384.2,291.4L387.9,295.9L391.4,300.4L394.9,305.0L398.3,309.6L401.5,314.4L404.5,319.2L407.5,324.1L410.3,329.1L413.0,334.2L415.7,339.3L418.3,344.4L421.0,349.6L423.6,354.7L426.3,359.7L429.2,364.7L432.1,369.6L435.2,374.5L438.4,379.2L441.8,383.9L445.2,388.4L448.8,393.0L452.4,397.4L456.1,401.9M386.0,284.3L389.8,288.9L393.5,293.4L397.2,298.1L400.8,302.7L404.3,307.5L407.7,312.4L410.9,317.3L413.9,322.3L416.9,327.5L419.7,332.6L422.5,337.9L425.3,343.1L428.0,348.4L430.8,353.6L433.6,358.8L436.6,363.9L439.6,369.0L442.8,373.9L446.2,378.8L449.7,383.5L453.3,388.2L457.0,392.8L460.7,397.4L464.6,402.0M391.4,281.5L395.4,286.2L399.3,290.8L403.1,295.6L406.9,300.4L410.5,305.2L414.0,310.2L417.3,315.3L420.5,320.5L423.6,325.7L426.5,331.0L429.4,336.4L432.3,341.8L435.2,347.2L438.0,352.6L441.0,357.9L444.1,363.1L447.3,368.3L450.6,373.4L454.1,378.4L457.7,383.2L461.5,388.0L465.3,392.8L469.3,397.4L473.2,402.1M396.9,278.5L401.0,283.3L405.1,288.1L409.1,292.9L412.9,297.9L416.7,302.9L420.3,308.0L423.8,313.2L427.1,318.5L430.3,323.9L433.4,329.3L436.4,334.8L439.4,340.4L442.4,345.9L445.4,351.4L448.5,356.9L451.7,362.3L455.0,367.6L458.5,372.8L462.2,377.9L465.9,382.9L469.8,387.8L473.9,392.6L477.9,397.4L482.1,402.2M402.4,275.4L406.7,280.3L410.9,285.2L415.0,290.1L419.0,295.2L422.9,300.3L426.7,305.6L430.3,310.9L433.8,316.4L437.1,321.9L440.3,327.5L443.4,333.1L446.5,338.8L449.6,344.5L452.7,350.2L456.0,355.8L459.3,361.4L462.8,366.8L466.4,372.2L470.2,377.4L474.2,382.5L478.3,387.5L482.5,392.5L486.7,397.3L491.0,402.2M408.0,272.0L412.4,277.0L416.7,282.0L421.0,287.1L425.1,292.3L429.1,297.6L433.0,303.0L436.8,308.5L440.4,314.1L443.8,319.7L447.2,325.5L450.4,331.3L453.6,337.1L456.7,343.0L460.0,348.9L463.3,354.7L466.8,360.4L470.5,366.0L474.4,371.5L478.4,376.8L482.5,382.0L486.8,387.1L491.1,392.2L495.5,397.1L500.0,402.1M413.5,268.2L418.1,273.3L422.5,278.5L426.9,283.8L431.1,289.1L435.2,294.6L439.3,300.2L443.2,305.9L446.9,311.7L450.6,317.4L454.0,323.3L457.3,329.2L460.5,335.2L463.7,341.3L467.1,347.5L470.6,353.6L474.3,359.5L478.3,365.3L482.4,370.9L486.6,376.3L491.0,381.6L495.5,386.7L500.0,391.8L504.6,396.9L509.2,401.9M419.1,263.9L423.7,269.2L428.3,274.5L432.7,280.0L437.0,285.6L441.2,291.4L445.3,297.3L449.5,303.2L453.5,309.1L457.3,314.9L460.8,320.8L464.1,326.9L467.3,333.2L470.5,339.6L474.0,346.1L477.8,352.6L481.9,358.8L486.2,364.7L490.7,370.4L495.2,375.8L499.8,381.1L504.5,386.3L509.2,391.5L513.9,396.7L518.7,401.9M424.6,259.4L429.4,264.8L434.0,270.3L438.4,275.9L442.6,281.8L446.8,288.0L451.2,294.3L455.6,300.6L460.0,306.6L463.9,312.4L467.5,318.3L470.6,324.4L473.7,330.9L477.0,337.9L480.7,345.0L485.0,351.9L489.7,358.4L494.5,364.4L499.3,369.9L504.1,375.3L508.9,380.5L513.7,385.8L518.5,391.1L523.5,396.4L528.4,401.8M430.2,254.7L435.1,260.3L439.6,265.9L443.9,271.6L447.9,277.8L452.1,284.5L456.8,291.5L461.8,298.2L466.6,304.2L470.7,309.8L474.1,315.5L477.1,321.6L479.9,328.4L483.1,336.1L487.3,344.1L492.5,351.7L498.0,358.2L503.3,364.0L508.3,369.3L513.2,374.5L518.0,379.7L522.9,385.1L527.9,390.5L533.0,396.0L538.1,401.5M435.9,250.3L440.8,255.8L445.3,261.4L449.4,267.1L453.2,273.5L457.2,280.9L462.4,289.0L468.4,296.2L473.8,302.0L477.9,307.2L481.1,312.4L483.6,318.2L486.0,325.3L489.2,334.1L494.4,343.7L501.0,351.7L507.2,357.9L512.6,363.1L517.5,368.2L522.3,373.3L527.1,378.6L532.1,384.1L537.2,389.7L542.4,395.4L547.7,401.1M441.6,246.1L446.6,251.6L451.2,257.0L455.2,262.5L458.8,268.6L462.5,276.6L468.7,287.0L476.6,294.5L482.1,299.5L485.8,304.1L488.7,308.8L490.9,314.2L492.8,321.1L495.4,331.6L503.3,344.2L511.5,351.4L517.3,356.6L522.1,361.4L526.5,366.4L531.1,371.6L535.9,377.1L540.9,382.8L546.2,388.6L551.6,394.4L557.1,400.3M447.5,242.5L452.6,247.9L457.3,253.1L461.7,258.1L465.7,263.4L469.2,270.1L480.0,286.5L487.1,291.3L491.1,295.9L494.2,300.4L497.0,304.9L499.7,309.6L502.4,315.1L503.5,324.0L518.8,343.1L523.3,348.6L527.2,353.8L531.0,358.9L535.1,364.1L539.5,369.6L544.3,375.3L549.5,381.2L554.9,387.1L560.4,393.1L566.0,399.0M453.6,239.5L458.9,244.7L464.0,249.6L469.1,254.2L474.8,258.7L483.8,264.2L493.4,277.6L496.4,285.9L499.3,291.6L502.3,296.4L505.6,301.0L509.7,305.6L515.8,310.8L526.2,321.4L530.7,335.7L532.9,343.8L535.8,350.1L539.1,355.8L543.1,361.4L547.5,367.2L552.5,373.2L557.7,379.2L563.3,385.2L568.9,391.2L574.6,397.2M459.9,236.7L465.4,241.9L471.0,246.7L477.1,251.3L484.3,256.4L492.8,263.9L499.2,273.5L503.1,281.4L506.3,287.6L509.8,292.9L513.9,297.9L519.1,303.3L526.0,310.2L533.0,320.3L537.4,330.9L540.3,339.3L543.2,346.2L546.7,352.4L550.7,358.5L555.4,364.6L560.5,370.6L565.9,376.7L571.5,382.8L577.3,388.8L583.1,394.8M466.3,234.4L472.2,239.6L478.2,244.5L484.8,249.5L492.1,255.4L499.2,262.9L504.7,270.9L508.9,278.2L512.7,284.5L516.8,290.2L521.6,295.9L527.1,302.1L533.3,309.6L539.0,318.6L543.3,327.6L546.7,335.6L550.1,342.7L553.9,349.2L558.2,355.5L563.1,361.7L568.4,367.9L573.9,374.1L579.6,380.1L585.5,386.1L591.4,392.1M472.9,232.4L478.9,237.7L485.3,242.8L492.0,248.3L498.7,254.6L504.9,261.7L510.1,269.0L514.7,275.8L519.0,282.1L523.6,288.2L528.7,294.4L534.1,301.1L539.7,308.6L544.7,316.8L549.0,324.9L552.8,332.5L556.7,339.5L560.9,346.2L565.6,352.6L570.7,358.9L576.1,365.1L581.7,371.3L587.5,377.3L593.5,383.2L599.4,389.2M479.4,230.8L485.6,236.2L492.0,241.6L498.5,247.4L504.8,253.8L510.6,260.5L515.8,267.2L520.6,273.8L525.4,280.2L530.2,286.5L535.4,293.0L540.6,300.0L545.7,307.3L550.5,315.0L554.8,322.6L559.0,329.9L563.3,336.8L567.9,343.4L572.8,349.9L578.1,356.2L583.6,362.4L589.4,368.5L595.2,374.5L601.2,380.4L607.2,386.2M485.8,229.5L492.1,235.0L498.4,240.6L504.7,246.5L510.8,252.8L516.4,259.2L521.7,265.7L526.7,272.2L531.7,278.6L536.7,285.1L541.8,291.8L546.9,298.7L551.8,305.9L556.4,313.2L560.9,320.5L565.4,327.5L570.0,334.4L574.8,341.0L580.0,347.4L585.4,353.7L591.0,359.9L596.7,365.9L602.7,371.8L608.7,377.6L614.8,383.4M492.1,228.5L498.4,234.1L504.7,239.8L510.8,245.7L516.7,251.8L522.3,258.1L527.7,264.4L532.9,270.8L538.0,277.2L543.1,283.8L548.2,290.5L553.1,297.4L557.9,304.5L562.6,311.6L567.2,318.7L571.8,325.6L576.6,332.3L581.7,338.9L586.9,345.3L592.4,351.5L598.0,357.6L603.9,363.6L609.8,369.5L615.9,375.3L622.0,381.0M498.3,228.0L504.6,233.6L510.8,239.3L516.8,245.2L522.7,251.2L528.3,257.3L533.8,263.5L539.1,269.8L544.3,276.3L549.4,282.8L554.4,289.6L559.2,296.4L564.0,303.4L568.7,310.3L573.4,317.3L578.2,324.1L583.1,330.7L588.2,337.2L593.5,343.6L599.1,349.7L604.8,355.8L610.6,361.7L616.6,367.5L622.7,373.2L628.8,378.9M504.5,228.2L510.7,233.7L516.8,239.4L522.8,245.2L528.7,251.1L534.3,257.0L539.8,263.2L545.2,269.4L550.4,275.8L555.5,282.3L560.4,289.0L565.3,295.7L570.1,302.6L574.8,309.4L579.6,316.2L584.4,322.9L589.4,329.4L594.5,335.9L599.9,342.1L605.4,348.2L611.1,354.2L617.0,360.0L623.0,365.7L629.1,371.4L635.2,377.0M510.7,228.7L516.8,234.2L522.9,239.8L528.9,245.4L534.7,251.2L540.3,257.1L545.9,263.1L551.2,269.2L556.4,275.5L561.5,282.0L566.4,288.6L571.3,295.2L576.0,302.0L580.8,308.7L585.6,315.3L590.5,321.9L595.5,328.4L600.7,334.7L606.0,340.9L611.5,346.9L617.2,352.8L623.1,358.5L629.1,364.1L635.1,369.7L641.2,375.2M516.8,229.2L522.9,234.7L528.9,240.1L534.9,245.7L540.7,251.3L546.4,257.1L551.9,263.0L557.2,269.1L562.4,275.3L567.5,281.7L572.4,288.2L577.2,294.8L582.0,301.4L586.7,308.0L591.5,314.5L596.4,321.0L601.5,327.4L606.6,333.6L612.0,339.7L617.5,345.6L623.2,351.4L629.0,357.1L635.0,362.6L641.0,368.0L647.1,373.4M522.9,229.5L528.9,234.9L535.0,240.2L540.9,245.7L546.7,251.3L552.4,257.0L557.9,262.8L563.2,268.8L568.4,275.0L573.4,281.2L578.3,287.6L583.1,294.1L587.9,300.6L592.7,307.2L597.5,313.6L602.4,320.0L607.4,326.3L612.6,332.5L617.9,338.5L623.4,344.3L629.1,350.0L634.9,355.6L640.9,361.0L646.9,366.4L652.9,371.7M528.9,229.2L535.0,234.5L541.0,239.8L546.9,245.2L552.7,250.7L558.4,256.3L563.9,262.1L569.2,268.1L574.4,274.1L579.4,280.4L584.3,286.7L589.1,293.1L593.9,299.6L598.7,306.0L603.5,312.4L608.4,318.8L613.4,325.0L618.6,331.1L623.9,337.0L629.4,342.8L635.1,348.4L640.9,353.9L646.8,359.3L652.8,364.6L658.9,369.9M535.0,228.0L541.1,233.2L547.1,238.5L553.0,243.9L558.8,249.4L564.5,255.0L570.0,260.7L575.3,266.6L580.5,272.7L585.5,278.9L590.4,285.2L595.2,291.6L600.0,298.0L604.8,304.4L609.6,310.8L614.5,317.1L619.5,323.3L624.7,329.4L630.1,335.3L635.6,341.0L641.2,346.6L647.0,352.1L652.9,357.5L658.9,362.8L665.0,368.0M541.0,225.6L547.1,230.8L553.1,236.1L559.1,241.5L564.9,247.0L570.6,252.6L576.1,258.4L581.4,264.3L586.6,270.4L591.7,276.6L596.6,282.9L601.4,289.3L606.2,295.7L611.0,302.2L615.9,308.6L620.8,314.9L625.8,321.1L631.0,327.2L636.4,333.1L641.9,338.9L647.6,344.5L653.4,350.0L659.3,355.4L665.3,360.7L671.4,365.9M547.0,222.1L553.1,227.4L559.1,232.8L565.1,238.2L571.0,243.7L576.7,249.4L582.2,255.2L587.6,261.2L592.8,267.3L597.9,273.6L602.8,280.0L607.7,286.4L612.5,292.9L617.3,299.4L622.2,305.8L627.1,312.2L632.2,318.5L637.4,324.6L642.8,330.6L648.3,336.4L654.0,342.1L659.9,347.6L665.8,353.0L671.9,358.4L678.0,363.7M552.9,218.1L559.1,223.4L565.1,228.9L571.2,234.4L577.0,240.0L582.8,245.7L588.4,251.6L593.8,257.6L599.0,263.8L604.1,270.2L609.1,276.6L614.0,283.2L618.8,289.7L623.6,296.3L628.5,302.8L633.5,309.3L638.6,315.6L643.8,321.8L649.2,327.9L654.8,333.8L660.5,339.5L666.4,345.1L672.4,350.6L678.5,356.0L684.7,361.4M558.8,213.8L565.0,219.3L571.2,224.8L577.2,230.3L583.1,236.0L588.9,241.8L594.5,247.8L599.9,254.0L605.2,260.2L610.3,266.7L615.3,273.2L620.2,279.8L625.1,286.5L629.9,293.1L634.8,299.7L639.8,306.3L645.0,312.7L650.2,319.0L655.6,325.1L661.3,331.1L667.0,336.9L673.0,342.6L679.0,348.2L685.1,353.7L691.3,359.1M564.8,209.8L571.0,215.3L577.2,220.9L583.3,226.5L589.2,232.3L595.0,238.2L600.6,244.2L606.1,250.4L611.4,256.8L616.5,263.3L621.5,269.9L626.4,276.6L631.3,283.3L636.2,290.1L641.1,296.8L646.1,303.4L651.2,309.9L656.5,316.2L662.0,322.5L667.6,328.5L673.4,334.4L679.4,340.2L685.4,345.8L691.6,351.4L697.8,356.9M570.9,206.4L577.1,212.0L583.3,217.6L589.3,223.3L595.3,229.1L601.1,235.1L606.8,241.2L612.2,247.4L617.5,253.8L622.6,260.4L627.7,267.1L632.6,273.8L637.5,280.6L642.3,287.4L647.3,294.1L652.3,300.8L657.4,307.4L662.7,313.8L668.2,320.1L673.8,326.2L679.6,332.1L685.6,337.9L691.7,343.6L697.9,349.3L704.1,354.8M577.0,204.0L583.2,209.6L589.4,215.3L595.5,221.0L601.4,226.8L607.2,232.8L612.9,238.9L618.3,245.2L623.6,251.7L628.7,258.2L633.7,264.9L638.6,271.7L643.5,278.5L648.4,285.3L653.3,292.1L658.3,298.8L663.4,305.3L668.7,311.8L674.1,318.1L679.8,324.2L685.6,330.2L691.5,336.0L697.6,341.7L703.8,347.4L710.0,353.0M583.3,202.7L589.5,208.3L595.6,213.9L601.7,219.6L607.6,225.5L613.4,231.4L619.0,237.5L624.4,243.8L629.6,250.2L634.7,256.8L639.7,263.5L644.6,270.2L649.4,277.0L654.3,283.8L659.1,290.6L664.1,297.3L669.2,303.8L674.5,310.3L679.9,316.5L685.5,322.7L691.2,328.6L697.2,334.5L703.2,340.2L709.4,345.8L715.5,351.4M589.7,202.0L595.8,207.6L601.9,213.2L607.9,218.9L613.8,224.7L619.5,230.6L625.1,236.7L630.4,243.0L635.6,249.4L640.7,255.9L645.6,262.5L650.5,269.3L655.2,276.0L660.0,282.8L664.9,289.5L669.8,296.2L674.8,302.7L680.0,309.1L685.4,315.4L691.0,321.4L696.7,327.4L702.6,333.2L708.6,338.9L714.7,344.5L720.8,350.1M596.2,201.8L602.2,207.4L608.3,213.0L614.2,218.6L620.0,224.4L625.7,230.3L631.2,236.3L636.5,242.5L641.6,248.9L646.6,255.4L651.5,262.0L656.3,268.7L661.0,275.4L665.7,282.1L670.5,288.8L675.4,295.3L680.4,301.8L685.5,308.2L690.8,314.4L696.3,320.4L702.0,326.3L707.8,332.1L713.7,337.8L719.7,343.3L725.8,348.9M602.7,202.1L608.7,207.6L614.6,213.1L620.5,218.7L626.2,224.4L631.8,230.3L637.2,236.3L642.5,242.4L647.6,248.7L652.5,255.1L657.3,261.7L662.0,268.3L666.7,274.9L671.4,281.6L676.1,288.2L680.9,294.7L685.8,301.1L690.9,307.4L696.1,313.6L701.5,319.6L707.1,325.4L712.9,331.1L718.7,336.7L724.7,342.3L730.7,347.8M609.2,202.6L615.1,208.1L621.0,213.5L626.8,219.1L632.4,224.7L637.9,230.5L643.3,236.4L648.5,242.5L653.5,248.7L658.3,255.1L663.1,261.5L667.7,268.1L672.3,274.6L676.9,281.2L681.6,287.7L686.3,294.2L691.2,300.5L696.2,306.8L701.4,312.8L706.7,318.8L712.2,324.5L717.9,330.2L723.7,335.7L729.5,341.2L735.4,346.6M615.7,203.3L621.5,208.7L627.3,214.1L633.0,219.5L638.6,225.1L644.0,230.8L649.3,236.7L654.4,242.7L659.3,248.8L664.1,255.1L668.8,261.4L673.4,267.9L677.9,274.4L682.5,280.8L687.1,287.3L691.7,293.7L696.5,299.9L701.5,306.1L706.6,312.1L711.8,317.9L717.3,323.6L722.9,329.2L728.6,334.6L734.4,340.0L740.2,345.4M622.0,204.0L627.8,209.3L633.5,214.6L639.1,220.0L644.6,225.5L650.0,231.1L655.2,236.8L660.2,242.8L665.1,248.8L669.9,255.0L674.5,261.3L679.0,267.6L683.5,274.0L688.0,280.4L692.5,286.7L697.1,293.0L701.9,299.2L706.8,305.2L711.8,311.2L717.0,316.9L722.4,322.5L727.9,328.0L733.5,333.4L739.2,338.7L745.0,344.0M628.2,204.8L633.9,210.0L639.6,215.2L645.1,220.5L650.6,225.9L655.9,231.4L661.0,237.1L666.0,242.9L670.8,248.9L675.5,254.9L680.1,261.1L684.6,267.4L689.0,273.6L693.5,279.9L698.0,286.2L702.5,292.4L707.2,298.4L712.0,304.4L717.0,310.2L722.2,315.8L727.5,321.4L732.9,326.8L738.5,332.1L744.1,337.3L749.8,342.5M634.4,205.9L640.0,211.0L645.6,216.1L651.1,221.3L656.5,226.6L661.7,232.0L666.8,237.6L671.7,243.3L676.5,249.1L681.1,255.0L685.6,261.1L690.1,267.2L694.5,273.4L698.9,279.6L703.3,285.7L707.8,291.7L712.5,297.7L717.3,303.5L722.2,309.2L727.3,314.8L732.5,320.2L737.9,325.5L743.4,330.7L749.0,335.8L754.6,340.8M640.5,207.3L646.0,212.2L651.5,217.2L657.0,222.3L662.3,227.5L667.5,232.7L672.5,238.2L677.4,243.7L682.1,249.4L686.7,255.3L691.1,261.2L695.5,267.2L699.9,273.2L704.3,279.3L708.7,285.3L713.1,291.2L717.7,297.0L722.4,302.7L727.3,308.3L732.3,313.7L737.5,319.0L742.8,324.2L748.3,329.2L753.8,334.2L759.3,339.2M646.5,208.7L652.0,213.6L657.5,218.4L662.8,223.4L668.1,228.4L673.2,233.6L678.2,238.9L683.0,244.3L687.7,249.9L692.2,255.5L696.6,261.3L701.0,267.2L705.3,273.1L709.6,279.0L713.9,284.8L718.4,290.6L722.9,296.3L727.6,301.9L732.4,307.3L737.4,312.6L742.5,317.8L747.8,322.8L753.1,327.7L758.6,332.6L764.0,337.4M652.6,210.2L658.0,214.9L663.4,219.7L668.7,224.5L673.9,229.4L678.9,234.4L683.8,239.6L688.6,244.9L693.2,250.3L697.7,255.8L702.1,261.5L706.4,267.2L710.7,273.0L714.9,278.7L719.2,284.4L723.6,290.1L728.1,295.6L732.7,301.0L737.5,306.3L742.4,311.5L747.5,316.5L752.6,321.4L757.9,326.2L763.3,331.0L768.7,335.7M658.8,211.7L664.1,216.3L669.4,220.9L674.6,225.5L679.7,230.3L684.7,235.2L689.6,240.2L694.3,245.4L698.8,250.7L703.3,256.1L707.6,261.6L711.8,267.2L716.1,272.8L720.3,278.4L724.5,283.9L728.9,289.5L733.3,294.9L737.9,300.2L742.6,305.3L747.4,310.3L752.4,315.2L757.5,320.0L762.7,324.7L768.0,329.3L773.4,333.8M665.0,213.0L670.2,217.4L675.5,221.9L680.6,226.5L685.6,231.1L690.6,235.9L695.3,240.8L700.0,245.8L704.5,251.0L708.8,256.2L713.1,261.6L717.3,267.0L721.5,272.5L725.7,278.0L729.9,283.4L734.2,288.8L738.5,294.0L743.0,299.2L747.7,304.2L752.4,309.1L757.4,313.9L762.4,318.5L767.5,323.1L772.8,327.6L778.0,332.0M671.3,214.1L676.5,218.4L681.6,222.8L686.7,227.2L691.6,231.7L696.5,236.4L701.2,241.2L705.7,246.0L710.2,251.1L714.5,256.2L718.7,261.5L722.9,266.8L727.0,272.1L731.1,277.4L735.2,282.7L739.5,288.0L743.8,293.1L748.2,298.1L752.8,303.0L757.5,307.8L762.3,312.5L767.3,317.0L772.3,321.4L777.5,325.8L782.6,330.1M677.7,215.0L682.8,219.3L687.8,223.5L692.8,227.8L697.7,232.2L702.4,236.7L707.1,241.4L711.6,246.2L715.9,251.1L720.2,256.1L724.3,261.2L728.4,266.4L732.5,271.6L736.5,276.8L740.6,282.0L744.8,287.1L749.0,292.1L753.4,297.0L757.9,301.8L762.5,306.4L767.3,310.9L772.2,315.3L777.2,319.7L782.2,323.9L787.3,328.1M684.1,215.9L689.1,220.0L694.0,224.2L698.9,228.4L703.7,232.6L708.4,237.1L713.0,241.6L717.4,246.2L721.7,251.0L725.9,255.9L730.0,260.9L734.0,265.9L738.0,271.0L742.0,276.1L746.0,281.1L750.1,286.1L754.3,291.0L758.6,295.8L763.0,300.4L767.6,305.0L772.3,309.4L777.1,313.7L781.9,317.9L786.9,322.0L791.9,326.1M690.5,216.9L695.4,220.8L700.3,224.9L705.1,228.9L709.8,233.1L714.4,237.4L718.9,241.8L723.2,246.3L727.5,251.0L731.6,255.7L735.6,260.6L739.6,265.5L743.5,270.4L747.4,275.4L751.4,280.3L755.4,285.2L759.5,289.9L763.8,294.6L768.1,299.1L772.6,303.5L777.2,307.8L781.9,311.9L786.7,316.0L791.6,320.0L796.5,324.0M697.0,217.9L701.8,221.8L706.6,225.7L711.3,229.7L715.9,233.7L720.4,237.9L724.8,242.1L729.1,246.5L733.3,251.0L737.3,255.7L741.3,260.4L745.2,265.2L749.0,270.0L752.9,274.8L756.8,279.5L760.7,284.3L764.8,288.9L768.9,293.4L773.2,297.8L777.6,302.1L782.1,306.2L786.7,310.3L791.5,314.2L796.2,318.1L801.0,322.0M703.5,219.3L708.2,223.0L712.9,226.8L717.5,230.6L722.0,234.5L726.5,238.5L730.8,242.7L735.0,246.9L739.0,251.3L743.0,255.8L746.9,260.3L750.7,265.0L754.5,269.6L758.3,274.3L762.1,278.9L766.0,283.5L770.0,288.0L774.1,292.3L778.3,296.6L782.6,300.7L787.0,304.7L791.5,308.6L796.2,312.5L800.8,316.2L805.5,320.0M710.0,221.0L714.6,224.6L719.2,228.2L723.7,231.9L728.1,235.7L732.5,239.5L736.7,243.5L740.8,247.6L744.8,251.8L748.7,256.1L752.5,260.5L756.3,265.0L760.0,269.5L763.7,274.0L767.5,278.5L771.3,282.9L775.2,287.2L779.2,291.4L783.3,295.5L787.5,299.5L791.9,303.3L796.3,307.1L800.8,310.8L805.4,314.4L810.0,318.0M716.5,223.1L721.0,226.5L725.5,230.0L729.9,233.5L734.3,237.1L738.5,240.8L742.6,244.6L746.6,248.6L750.6,252.6L754.4,256.8L758.1,261.0L761.8,265.3L765.5,269.6L769.1,273.9L772.8,278.2L776.5,282.4L780.4,286.6L784.3,290.6L788.3,294.5L792.4,298.4L796.7,302.1L801.0,305.7L805.4,309.2L809.9,312.6L814.4,316.1M723.1,225.5L727.5,228.8L731.9,232.1L736.2,235.4L740.4,238.9L744.5,242.4L748.6,246.0L752.5,249.8L756.3,253.6L760.1,257.6L763.7,261.6L767.3,265.7L770.9,269.8L774.5,274.0L778.1,278.1L781.8,282.1L785.5,286.0L789.3,289.9L793.3,293.7L797.3,297.3L801.4,300.8L805.7,304.2L810.0,307.6L814.3,310.9L818.7,314.1M729.7,228.2L734.0,231.3L738.3,234.4L742.4,237.6L746.6,240.8L750.6,244.1L754.5,247.6L758.4,251.1L762.1,254.8L765.8,258.6L769.3,262.4L772.9,266.3L776.4,270.2L779.9,274.1L783.4,278.0L787.0,281.9L790.6,285.6L794.4,289.3L798.2,292.8L802.2,296.3L806.2,299.6L810.3,302.9L814.5,306.0L818.7,309.1L823.0,312.2M736.4,231.1L740.5,234.0L744.6,236.9L748.7,239.9L752.7,242.9L756.6,246.0L760.5,249.3L764.2,252.6L767.9,256.1L771.4,259.7L774.9,263.3L778.4,267.0L781.8,270.7L785.2,274.4L788.7,278.1L792.2,281.7L795.8,285.3L799.4,288.7L803.1,292.1L807.0,295.3L810.9,298.5L814.9,301.5L819.0,304.5L823.1,307.4L827.2,310.3M743.0,234.0L747.0,236.7L751.0,239.5L755.0,242.2L758.9,245.1L762.7,248.0L766.4,251.1L770.0,254.2L773.6,257.5L777.1,260.8L780.5,264.3L783.9,267.7L787.2,271.2L790.6,274.8L794.0,278.2L797.4,281.6L800.9,285.0L804.4,288.3L808.1,291.4L811.8,294.5L815.6,297.4L819.5,300.3L823.5,303.0L827.5,305.8L831.5,308.5M749.5,237.0L753.4,239.5L757.3,242.1L761.2,244.7L764.9,247.3L768.7,250.1L772.3,252.9L775.8,255.9L779.3,258.9L782.7,262.1L786.1,265.3L789.4,268.6L792.6,271.9L795.9,275.2L799.2,278.4L802.5,281.6L805.9,284.8L809.4,287.8L813.0,290.8L816.6,293.6L820.3,296.4L824.1,299.1L827.9,301.6L831.8,304.2L835.7,306.7M756.0,240.0L759.8,242.3L763.6,244.7L767.3,247.1L771.0,249.6L774.6,252.1L778.1,254.8L781.6,257.5L785.0,260.4L788.3,263.3L791.6,266.3L794.8,269.4L798.0,272.5L801.2,275.6L804.4,278.7L807.7,281.7L811.0,284.6L814.4,287.5L817.9,290.2L821.4,292.9L825.0,295.4L828.7,297.9L832.4,300.3L836.2,302.7L840.0,305.0M762.8,243.2L766.5,245.3L770.1,247.5L773.7,249.7L777.3,252.0L780.8,254.3L784.3,256.8L787.6,259.3L790.9,262.0L794.2,264.7L797.4,267.5L800.5,270.4L803.7,273.3L806.8,276.1L809.9,279.0L813.1,281.8L816.4,284.5L819.7,287.2L823.1,289.7L826.5,292.2L830.0,294.5L833.6,296.8L837.2,299.0L840.9,301.2L844.5,303.3M770.0,246.7L773.6,248.6L777.1,250.6L780.6,252.6L784.1,254.7L787.5,256.8L790.8,259.0L794.1,261.4L797.3,263.8L800.5,266.3L803.6,268.9L806.7,271.5L809.7,274.2L812.8,276.8L815.9,279.4L819.0,282.0L822.1,284.5L825.3,287.0L828.6,289.3L832.0,291.5L835.4,293.7L838.8,295.8L842.3,297.8L845.9,299.7L849.4,301.6M777.3,250.4L780.7,252.1L784.2,253.8L787.6,255.6L790.9,257.5L794.2,259.4L797.5,261.4L800.6,263.5L803.8,265.7L806.8,268.0L809.9,270.4L812.9,272.8L815.9,275.2L818.9,277.6L821.9,280.0L824.9,282.3L828.0,284.6L831.1,286.8L834.3,288.9L837.5,290.9L840.8,292.9L844.2,294.7L847.6,296.5L851.0,298.3L854.4,300.0M784.3,254.0L787.6,255.5L791.0,257.0L794.2,258.6L797.5,260.2L800.7,262.0L803.8,263.8L806.9,265.7L810.0,267.6L813.0,269.7L815.9,271.8L818.9,274.0L821.8,276.2L824.7,278.4L827.6,280.6L830.6,282.7L833.6,284.7L836.6,286.7L839.7,288.6L842.9,290.4L846.1,292.2L849.3,293.8L852.6,295.4L855.9,296.9L859.2,298.4M790.7,257.2L793.9,258.6L797.1,259.9L800.3,261.3L803.5,262.8L806.6,264.3L809.6,265.9L812.6,267.6L815.6,269.4L818.5,271.3L821.4,273.2L824.3,275.1L827.2,277.1L830.0,279.1L832.9,281.1L835.8,283.0L838.7,284.9L841.7,286.7L844.7,288.4L847.8,290.0L850.9,291.5L854.0,293.0L857.2,294.4L860.4,295.7L863.6,297.0M796.0,260.0L799.2,261.2L802.3,262.4L805.4,263.6L808.5,264.9L811.5,266.3L814.5,267.7L817.4,269.2L820.3,270.9L823.2,272.6L826.0,274.3L828.9,276.1L831.7,277.9L834.5,279.7L837.3,281.5L840.1,283.3L843.0,285.0L845.9,286.6L848.8,288.2L851.8,289.6L854.9,291.0L857.9,292.3L861.0,293.5L864.2,294.7L867.3,295.9M800.0,262.0L803.1,263.1L806.1,264.1L809.2,265.3L812.2,266.4L815.1,267.7L818.1,269.0L821.0,270.4L823.8,271.9L826.7,273.5L829.5,275.1L832.2,276.8L835.0,278.5L837.8,280.2L840.5,281.9L843.3,283.5L846.2,285.1L849.0,286.6L851.9,288.0L854.9,289.3L857.8,290.6L860.8,291.7L863.9,292.9L866.9,293.9L870.0,295.0M300.0,325.0L306.3,321.5L315.3,316.4L325.4,310.8L335.0,306.0L343.7,302.3L352.3,299.1L361.0,295.8L370.0,292.0L379.2,287.6L388.7,282.9L398.3,277.8L408.0,272.0L417.7,265.0L427.4,257.0L437.3,249.2L447.5,242.5L458.3,237.4L469.6,233.4L481.0,230.5L492.1,228.5L503.0,228.1L513.7,229.0L524.4,229.5L535.0,228.0L545.5,223.1L555.9,215.9L566.3,208.9L577.0,204.0L588.1,202.1L599.4,201.9L610.8,202.8L622.0,204.0L632.8,205.6L643.5,208.0L654.2,210.6L665.0,213.0L676.1,214.8L687.3,216.4L698.6,218.2L710.0,221.0L721.5,224.9L733.1,229.6L744.6,234.8L756.0,240.0L768.2,245.8L780.9,252.2L792.1,258.0L800.0,262.0M302.0,328.0L308.4,324.5L317.5,319.6L327.8,314.2L337.5,309.4L346.3,305.8L355.1,302.7L363.9,299.5L373.0,295.8L382.5,291.6L392.1,287.0L402.0,282.0L411.9,276.4L421.8,269.7L431.7,261.9L441.7,254.1L452.1,247.3L463.2,242.0L474.9,238.0L486.5,235.3L497.7,233.4L508.5,233.0L519.2,233.8L529.8,234.2L540.4,232.7L550.9,227.8L561.4,220.7L571.8,213.8L582.5,209.0L593.6,207.1L604.8,206.8L616.1,207.6L627.1,208.7L637.9,210.2L648.4,212.3L658.9,214.8L669.7,217.0L680.6,218.6L691.7,220.0L702.9,221.7L714.1,224.2L725.4,227.8L736.8,232.3L748.2,237.1L759.4,242.1L771.4,247.6L783.9,253.6L795.0,259.1L802.7,262.9M304.0,330.9L310.5,327.6L319.7,322.7L330.2,317.5L340.0,312.9L348.9,309.4L357.8,306.3L366.8,303.2L376.0,299.6L385.7,295.5L395.6,291.1L405.6,286.3L415.8,280.9L425.9,274.4L435.8,266.8L445.8,259.0L456.3,252.0L468.0,246.3L480.4,242.5L492.2,240.1L503.3,238.5L514.0,238.1L524.6,238.7L535.1,239.0L545.7,237.3L556.3,232.5L566.8,225.6L577.3,218.7L588.0,214.0L599.0,212.1L610.1,211.8L621.3,212.4L632.2,213.4L642.8,214.7L653.3,216.7L663.7,218.9L674.3,220.9L685.1,222.4L696.1,223.6L707.1,225.1L718.2,227.4L729.3,230.8L740.5,234.9L751.7,239.5L762.7,244.2L774.5,249.3L786.9,255.1L797.8,260.3L805.4,263.9M306.0,333.9L312.5,330.7L321.9,326.0L332.5,320.8L342.4,316.4L351.5,312.9L360.5,309.9L369.6,306.9L379.0,303.4L388.8,299.5L398.9,295.3L409.2,290.6L419.6,285.4L429.8,279.1L439.7,271.9L449.5,264.0L460.3,256.4L473.0,250.4L486.2,247.0L497.9,245.2L508.8,243.7L519.4,243.2L529.9,243.7L540.4,243.8L551.0,242.1L561.6,237.3L572.2,230.5L582.8,223.7L593.5,219.1L604.4,217.1L615.4,216.8L626.4,217.3L637.2,218.2L647.8,219.4L658.1,221.1L668.4,223.2L678.9,225.0L689.6,226.2L700.4,227.2L711.3,228.6L722.2,230.7L733.2,233.8L744.2,237.7L755.2,241.9L766.1,246.3L777.7,251.2L789.8,256.6L800.6,261.5L808.1,264.9M307.9,337.0L314.5,333.8L324.0,329.2L334.7,324.2L344.8,319.9L354.0,316.5L363.1,313.6L372.3,310.7L381.9,307.3L391.9,303.5L402.2,299.5L412.7,295.0L423.3,290.0L433.6,284.0L443.5,277.1L452.9,269.4L463.9,260.9L478.7,254.5L492.4,252.1L503.6,250.7L514.1,249.1L524.6,248.4L535.1,248.7L545.6,248.7L556.2,246.9L566.9,242.1L577.5,235.5L588.1,228.8L598.8,224.2L609.6,222.2L620.6,221.8L631.5,222.3L642.2,223.0L652.6,224.0L662.8,225.6L673.0,227.4L683.4,229.0L694.0,230.1L704.7,231.0L715.4,232.1L726.2,234.0L737.0,236.8L747.8,240.4L758.7,244.4L769.4,248.5L780.8,253.0L792.8,258.1L803.4,262.7L810.8,265.9M309.7,340.0L316.4,336.9L326.1,332.5L336.9,327.6L347.1,323.4L356.4,320.2L365.6,317.3L375.0,314.5L384.7,311.2L394.9,307.6L405.4,303.7L416.2,299.4L426.9,294.7L437.4,289.0L447.1,282.6L456.2,275.5L467.4,266.0L485.9,259.5L498.6,258.2L508.9,256.4L519.2,254.6L529.7,253.7L540.2,253.9L550.7,253.7L561.3,251.8L572.0,247.1L582.7,240.5L593.3,234.0L604.0,229.5L614.8,227.5L625.6,227.0L636.4,227.4L647.0,227.9L657.4,228.8L667.5,230.2L677.6,231.8L687.8,233.2L698.3,234.1L708.9,234.8L719.5,235.7L730.1,237.4L740.7,240.0L751.4,243.3L762.1,246.9L772.6,250.7L783.9,254.9L795.7,259.7L806.2,264.0L813.5,267.0M311.5,343.1L318.3,340.1L328.0,335.8L339.0,331.1L349.4,327.0L358.8,323.9L368.1,321.1L377.6,318.4L387.5,315.2L397.8,311.7L408.6,308.0L419.5,303.9L430.4,299.4L441.1,294.1L451.0,288.5L460.1,282.7L470.0,274.2L493.8,267.4L504.0,264.9L513.8,262.4L524.1,260.2L534.7,259.1L545.2,259.1L555.7,258.8L566.3,256.9L577.0,252.2L587.7,245.7L598.4,239.3L609.1,234.8L619.8,232.8L630.6,232.2L641.3,232.5L651.7,233.0L662.0,233.7L672.0,234.9L682.0,236.3L692.2,237.5L702.5,238.2L712.9,238.7L723.4,239.4L733.9,240.8L744.4,243.2L754.9,246.2L765.4,249.5L775.8,253.0L786.9,256.9L798.6,261.3L808.9,265.3L816.1,268.1M313.2,346.3L320.0,343.4L329.9,339.2L341.0,334.6L351.5,330.7L361.0,327.6L370.4,325.0L380.0,322.3L390.1,319.3L400.6,315.9L411.5,312.4L422.7,308.5L433.9,304.2L444.7,299.3L455.0,294.4L465.3,290.2L482.4,287.6L498.8,276.3L508.4,271.5L518.3,268.3L528.9,265.8L539.5,264.6L550.1,264.4L560.6,264.0L571.2,262.0L581.9,257.4L592.7,251.0L603.4,244.8L614.1,240.3L624.7,238.3L635.4,237.6L645.9,237.8L656.3,238.1L666.5,238.7L676.4,239.7L686.3,240.9L696.4,241.9L706.6,242.4L716.9,242.7L727.3,243.2L737.6,244.4L748.0,246.5L758.4,249.2L768.7,252.2L778.9,255.4L789.9,259.0L801.4,263.0L811.6,266.8L818.7,269.3M314.8,349.4L321.7,346.6L331.7,342.6L342.9,338.2L353.5,334.4L363.2,331.4L372.7,328.9L382.4,326.3L392.6,323.4L403.3,320.2L414.4,316.9L425.8,313.2L437.2,309.1L448.4,304.5L459.2,300.0L471.0,296.5L487.6,291.8L501.9,283.1L512.2,277.6L522.7,274.1L533.5,271.5L544.3,270.2L554.8,269.9L565.3,269.3L575.9,267.3L586.6,262.7L597.4,256.5L608.2,250.3L618.9,245.9L629.5,243.8L640.1,243.1L650.5,243.2L660.8,243.4L670.8,243.8L680.7,244.6L690.5,245.6L700.5,246.4L710.6,246.7L720.8,246.8L731.0,247.1L741.3,248.1L751.5,249.9L761.7,252.3L771.9,255.0L782.0,257.9L792.8,261.1L804.2,264.8L814.3,268.2L821.3,270.6M316.3,352.7L323.3,349.9L333.4,346.1L344.8,341.8L355.5,338.1L365.2,335.3L374.8,332.8L384.7,330.4L395.0,327.6L405.9,324.6L417.2,321.4L428.8,318.0L440.4,314.1L451.9,309.7L463.2,305.4L475.7,301.4L491.1,295.9L504.7,288.5L515.9,283.2L526.9,279.8L538.0,277.2L548.9,275.9L559.4,275.5L569.9,274.8L580.5,272.7L591.3,268.1L602.1,262.0L612.9,256.0L623.6,251.7L634.1,249.5L644.6,248.8L654.9,248.7L665.1,248.8L675.1,249.0L684.9,249.6L694.6,250.4L704.5,251.0L714.5,251.1L724.6,251.0L734.7,251.1L744.8,251.8L754.9,253.3L765.0,255.4L775.0,257.9L785.0,260.4L795.7,263.3L806.9,266.7L816.9,269.8L823.8,271.9M317.7,355.9L324.9,353.3L335.1,349.6L346.5,345.5L357.4,341.9L367.2,339.2L376.9,336.8L386.9,334.5L397.3,331.8L408.4,329.0L419.9,326.0L431.7,322.8L443.5,319.1L455.2,314.9L466.9,310.5L479.4,305.9L493.9,299.9L507.6,293.1L519.7,288.5L531.3,285.4L542.6,283.0L553.4,281.7L563.9,281.1L574.4,280.4L584.9,278.2L595.8,273.7L606.6,267.7L617.5,261.8L628.2,257.5L638.6,255.4L649.0,254.5L659.2,254.4L669.3,254.3L679.2,254.3L688.9,254.8L698.6,255.3L708.4,255.6L718.3,255.6L728.3,255.3L738.3,255.2L748.3,255.7L758.2,256.9L768.2,258.7L778.1,260.8L787.9,263.0L798.5,265.6L809.6,268.6L819.5,271.4L826.3,273.3M319.2,359.2L326.3,356.7L336.6,353.1L348.2,349.2L359.2,345.8L369.1,343.2L378.9,340.9L389.0,338.6L399.6,336.1L410.8,333.5L422.5,330.7L434.5,327.6L446.4,324.2L458.3,320.1L470.1,315.6L482.3,310.4L496.4,303.9L511.0,297.5L524.0,293.7L535.8,291.2L547.0,289.0L557.8,287.6L568.3,286.9L578.7,286.0L589.3,283.8L600.2,279.3L611.1,273.5L622.0,267.7L632.6,263.4L643.1,261.3L653.3,260.3L663.5,260.1L673.5,259.9L683.3,259.7L692.9,260.0L702.5,260.3L712.2,260.4L722.0,260.1L731.9,259.6L741.8,259.3L751.7,259.6L761.5,260.5L771.4,262.0L781.1,263.8L790.8,265.7L801.3,268.0L812.3,270.6L822.0,273.1L828.8,274.8M320.5,362.5L327.8,360.1L338.2,356.7L349.8,352.9L360.9,349.7L370.9,347.2L380.9,345.0L391.1,342.8L401.8,340.5L413.2,338.0L425.0,335.4L437.2,332.6L449.3,329.3L461.3,325.5L472.9,320.9L484.6,315.3L498.8,308.0L515.1,301.9L528.8,299.3L540.5,297.3L551.5,295.1L562.2,293.6L572.6,292.8L583.0,291.7L593.6,289.4L604.5,285.0L615.5,279.3L626.3,273.6L637.0,269.4L647.4,267.2L657.6,266.2L667.6,265.8L677.5,265.5L687.2,265.2L696.8,265.2L706.3,265.3L715.9,265.2L725.7,264.7L735.5,264.0L745.3,263.5L755.0,263.5L764.8,264.2L774.5,265.4L784.1,266.8L793.7,268.4L804.1,270.3L814.9,272.6L824.6,274.8L831.3,276.2M321.8,365.8L329.2,363.5L339.7,360.2L351.5,356.7L362.6,353.6L372.8,351.2L382.8,349.1L393.1,347.0L403.9,344.8L415.5,342.5L427.5,340.1L439.9,337.5L452.2,334.5L464.2,330.9L475.5,326.7L486.6,321.0L501.2,312.5L520.4,307.0L534.0,305.7L545.0,303.7L555.8,301.4L566.4,299.7L576.9,298.7L587.3,297.5L597.9,295.1L608.8,290.8L619.8,285.2L630.7,279.6L641.3,275.5L651.7,273.2L661.8,272.2L671.7,271.6L681.5,271.2L691.2,270.7L700.7,270.5L710.1,270.4L719.6,270.1L729.3,269.4L739.0,268.5L748.7,267.7L758.3,267.5L768.0,267.9L777.6,268.7L787.1,269.9L796.6,271.1L806.8,272.7L817.6,274.7L827.1,276.5L833.8,277.7M323.2,369.2L330.6,367.0L341.2,363.8L353.1,360.4L364.4,357.4L374.6,355.2L384.7,353.2L395.1,351.3L406.1,349.2L417.8,347.0L430.0,344.8L442.5,342.5L455.0,339.7L467.0,336.5L478.2,332.9L488.8,328.2L503.5,318.0L527.4,314.4L539.0,312.9L549.4,310.3L560.0,307.7L570.7,305.8L581.1,304.6L591.5,303.3L602.1,300.9L613.1,296.5L624.1,291.0L635.0,285.6L645.7,281.5L655.9,279.3L665.9,278.1L675.8,277.5L685.5,276.8L695.1,276.2L704.5,275.8L713.9,275.5L723.4,274.9L732.9,274.0L742.5,272.9L752.1,272.0L761.7,271.5L771.2,271.6L780.6,272.1L790.1,272.9L799.4,273.9L809.6,275.1L820.2,276.7L829.6,278.2L836.2,279.3M324.5,372.5L331.9,370.4L342.6,367.4L354.7,364.2L366.1,361.3L376.4,359.2L386.6,357.3L397.1,355.5L408.2,353.5L420.1,351.5L432.5,349.6L445.2,347.4L457.8,344.9L470.0,342.2L481.3,339.5L492.3,337.0L510.2,339.1L533.3,324.6L543.4,320.6L553.4,317.1L564.1,314.0L574.9,311.9L585.4,310.5L595.8,309.1L606.4,306.6L617.3,302.3L628.4,296.9L639.4,291.6L650.0,287.6L660.2,285.3L670.1,284.0L679.9,283.3L689.5,282.5L699.0,281.7L708.4,281.1L717.7,280.5L727.1,279.8L736.5,278.7L746.0,277.4L755.5,276.2L765.0,275.5L774.4,275.3L783.7,275.5L793.0,276.0L802.3,276.6L812.3,277.5L822.8,278.8L832.2,279.9L838.7,280.8M325.8,375.8L333.4,373.8L344.2,371.0L356.3,367.9L367.8,365.2L378.2,363.2L388.6,361.4L399.2,359.7L410.4,357.9L422.5,356.0L435.0,354.3L447.9,352.4L460.7,350.2L473.1,347.9L485.0,346.1L497.9,345.7L519.9,344.3L536.5,334.0L546.9,328.0L557.3,323.7L568.2,320.2L579.1,317.9L589.6,316.4L600.1,314.8L610.7,312.2L621.7,308.0L632.8,302.7L643.8,297.6L654.4,293.6L664.5,291.2L674.4,289.9L684.0,289.1L693.5,288.1L703.0,287.2L712.3,286.4L721.5,285.6L730.8,284.6L740.2,283.3L749.6,281.8L759.0,280.4L768.3,279.4L777.6,279.0L786.8,278.9L796.0,279.0L805.2,279.3L815.1,279.9L825.5,280.8L834.7,281.6L841.2,282.2M327.3,379.1L334.9,377.2L345.7,374.5L358.0,371.6L369.6,369.1L380.1,367.1L390.6,365.4L401.3,363.8L412.7,362.2L424.9,360.5L437.6,358.9L450.7,357.2L463.7,355.3L476.5,353.5L489.2,352.5L504.1,352.5L523.7,349.2L538.9,341.2L550.1,334.8L561.1,330.0L572.4,326.3L583.4,323.9L594.0,322.2L604.4,320.4L615.1,317.8L626.1,313.6L637.2,308.5L648.2,303.4L658.8,299.5L668.9,297.1L678.7,295.7L688.2,294.8L697.7,293.7L707.0,292.6L716.3,291.6L725.4,290.5L734.6,289.4L743.9,287.9L753.2,286.2L762.5,284.6L771.7,283.3L780.9,282.6L790.0,282.2L799.0,282.0L808.1,282.0L817.8,282.2L828.1,282.7L837.3,283.3L843.7,283.7M328.7,382.3L336.4,380.6L347.4,378.0L359.7,375.2L371.5,372.9L382.1,371.0L392.7,369.4L403.5,367.9L415.0,366.4L427.4,364.9L440.3,363.5L453.6,362.1L466.8,360.4L480.0,359.0L493.7,358.3L509.6,357.7L527.2,353.8L541.4,347.1L553.4,341.1L565.0,336.1L576.6,332.3L587.8,329.7L598.5,327.9L608.9,326.0L619.5,323.3L630.6,319.2L641.8,314.1L652.8,309.2L663.4,305.3L673.4,303.0L683.1,301.5L692.5,300.4L701.9,299.2L711.2,297.9L720.3,296.7L729.4,295.4L738.5,294.0L747.7,292.3L756.9,290.5L766.1,288.6L775.2,287.2L784.2,286.2L793.2,285.4L802.1,284.9L811.0,284.6L820.7,284.5L830.8,284.7L839.9,284.9L846.2,285.1M330.2,385.6L338.0,383.9L349.1,381.5L361.6,378.9L373.5,376.6L384.2,374.9L394.8,373.4L405.8,372.0L417.4,370.6L429.9,369.3L443.1,368.1L456.6,366.8L470.1,365.4L483.8,364.2L498.3,363.6L514.4,362.2L530.5,358.3L544.4,352.6L556.9,346.9L569.1,342.1L581.1,338.2L592.4,335.5L603.1,333.5L613.5,331.5L624.1,328.7L635.2,324.6L646.4,319.7L657.5,314.9L668.1,311.1L678.1,308.7L687.6,307.1L696.9,305.9L706.2,304.6L715.4,303.1L724.5,301.7L733.5,300.2L742.5,298.6L751.6,296.7L760.7,294.7L769.8,292.6L778.7,290.9L787.6,289.6L796.5,288.6L805.3,287.8L814.0,287.1L823.5,286.7L833.6,286.5L842.5,286.5L848.7,286.4M331.8,388.7L339.7,387.2L350.9,384.9L363.5,382.4L375.5,380.3L386.3,378.7L397.1,377.3L408.1,376.0L419.9,374.7L432.6,373.6L446.0,372.6L459.7,371.5L473.5,370.3L487.6,369.3L502.7,368.5L518.7,366.7L534.1,362.9L547.9,357.9L560.9,352.6L573.5,347.8L585.7,343.9L597.1,341.1L607.8,339.0L618.2,336.8L628.9,334.0L640.0,329.9L651.2,325.1L662.3,320.5L672.9,316.7L682.8,314.2L692.3,312.6L701.5,311.3L710.7,309.9L719.8,308.2L728.8,306.6L737.7,304.9L746.6,303.1L755.6,301.0L764.6,298.8L773.5,296.5L782.4,294.6L791.1,293.0L799.8,291.7L808.5,290.6L817.1,289.6L826.5,288.9L836.4,288.3L845.1,287.9L851.3,287.7M333.5,391.9L341.4,390.4L352.8,388.3L365.5,386.0L377.6,384.0L388.6,382.5L399.4,381.1L410.6,379.9L422.5,378.8L435.4,377.8L449.0,376.9L462.9,376.1L477.0,375.1L491.6,374.1L507.0,373.2L523.0,371.2L538.0,367.7L551.9,363.2L565.2,358.2L578.1,353.5L590.5,349.5L602.0,346.6L612.7,344.3L623.1,342.0L633.7,339.1L644.8,335.1L656.2,330.5L667.3,325.9L677.9,322.2L687.7,319.7L697.1,318.0L706.2,316.6L715.3,315.0L724.3,313.2L733.2,311.4L742.0,309.5L750.8,307.5L759.7,305.2L768.6,302.8L777.4,300.3L786.1,298.2L794.7,296.3L803.3,294.7L811.7,293.3L820.2,292.0L829.4,290.9L839.2,290.1L847.8,289.4L853.9,288.9M335.3,395.0L343.3,393.6L354.7,391.6L367.6,389.4L379.9,387.6L390.9,386.2L401.9,384.9L413.2,383.8L425.3,382.8L438.3,381.9L452.1,381.3L466.3,380.6L480.7,379.7L495.6,378.9L511.3,377.8L527.2,375.8L542.1,372.8L556.2,368.6L569.8,363.8L583.0,359.0L595.5,354.9L607.0,351.9L617.7,349.5L628.0,347.1L638.7,344.2L649.8,340.2L661.2,335.6L672.4,331.2L683.0,327.5L692.8,325.0L702.0,323.3L711.0,321.8L720.0,320.1L728.9,318.1L737.7,316.1L746.4,314.0L755.2,311.8L763.9,309.3L772.6,306.7L781.3,304.0L789.9,301.6L798.4,299.5L806.8,297.6L815.1,295.9L823.4,294.3L832.5,292.9L842.0,291.7L850.6,290.7L856.5,290.0M337.1,398.0L345.2,396.7L356.8,394.9L369.8,392.8L382.2,391.1L393.3,389.8L404.4,388.6L415.8,387.6L428.1,386.7L441.3,386.0L455.3,385.5L469.7,385.0L484.4,384.3L499.6,383.5L515.6,382.5L531.5,380.7L546.6,377.9L560.8,374.0L574.7,369.3L588.0,364.5L600.6,360.3L612.2,357.2L622.8,354.6L633.2,352.1L643.8,349.1L655.0,345.2L666.4,340.7L677.6,336.4L688.2,332.8L697.9,330.3L707.1,328.4L716.0,326.8L724.8,325.0L733.6,322.9L742.3,320.7L751.0,318.4L759.6,316.0L768.2,313.3L776.8,310.5L785.4,307.6L793.8,305.0L802.1,302.7L810.3,300.4L818.5,298.4L826.6,296.5L835.6,294.8L845.0,293.3L853.3,292.0L859.2,291.1M339.0,401.1L347.2,399.9L358.9,398.1L372.0,396.2L384.6,394.6L395.8,393.4L407.0,392.3L418.6,391.4L431.0,390.6L444.4,390.0L458.6,389.7L473.3,389.4L488.2,388.8L503.8,388.1L519.9,387.2L536.0,385.7L551.3,383.2L565.7,379.4L579.7,374.7L593.2,369.8L605.8,365.6L617.4,362.4L628.0,359.6L638.4,357.0L649.0,353.9L660.2,350.0L671.7,345.7L683.0,341.5L693.5,337.9L703.2,335.4L712.3,333.5L721.0,331.8L729.8,329.8L738.5,327.5L747.1,325.2L755.6,322.7L764.1,320.0L772.6,317.2L781.1,314.2L789.5,311.2L797.8,308.3L805.9,305.7L814.0,303.2L822.0,300.9L829.9,298.7L838.7,296.7L847.9,294.8L856.1,293.2L861.9,292.1M341.0,404.1L349.2,402.9L361.1,401.3L374.4,399.6L387.0,398.1L398.4,397.0L409.7,396.0L421.4,395.1L434.0,394.4L447.6,394.0L462.0,393.8L476.9,393.7L492.1,393.3L507.9,392.7L524.3,392.0L540.6,390.7L556.1,388.4L570.7,384.8L584.9,380.0L598.4,375.1L611.2,370.8L622.8,367.4L633.4,364.6L643.7,361.8L654.3,358.7L665.5,354.8L677.1,350.6L688.4,346.5L699.0,343.0L708.6,340.4L717.6,338.5L726.2,336.7L734.8,334.6L743.4,332.2L751.9,329.6L760.3,326.9L768.7,324.1L777.1,321.1L785.4,317.9L793.7,314.6L801.8,311.6L809.8,308.7L817.7,305.9L825.5,303.3L833.3,300.8L841.8,298.5L850.9,296.3L858.9,294.4L864.6,293.1M343.0,407.0L351.3,406.0L363.3,404.5L376.7,402.9L389.5,401.6L401.0,400.5L412.4,399.6L424.3,398.8L437.0,398.2L450.8,397.9L465.4,397.9L480.6,397.9L496.0,397.7L512.1,397.3L528.8,396.8L545.3,395.8L561.0,393.7L575.9,390.1L590.2,385.3L603.8,380.3L616.6,375.9L628.2,372.5L638.8,369.5L649.0,366.5L659.6,363.3L670.9,359.5L682.5,355.4L693.9,351.4L704.5,348.0L714.0,345.4L722.9,343.4L731.4,341.5L739.9,339.3L748.4,336.7L756.8,334.0L765.1,331.1L773.3,328.0L781.6,324.8L789.8,321.5L797.9,318.1L805.9,314.8L813.7,311.7L821.4,308.6L829.0,305.7L836.6,302.9L845.0,300.3L853.9,297.8L861.8,295.6L867.3,294.1M345.0,410.0L353.4,409.1L365.5,407.7L379.1,406.2L392.0,405.0L403.6,404.0L415.2,403.2L427.1,402.5L440.0,402.0L454.0,401.9L468.9,402.0L484.3,402.2L500.0,402.1L516.3,401.9L533.3,401.7L550.1,400.9L566.0,399.0L581.0,395.4L595.4,390.6L609.1,385.5L622.0,381.0L633.6,377.4L644.2,374.3L654.4,371.3L665.0,368.0L676.3,364.3L688.0,360.3L699.4,356.4L710.0,353.0L719.5,350.4L728.2,348.3L736.6,346.3L745.0,344.0L753.4,341.3L761.7,338.3L769.9,335.2L778.0,332.0L786.1,328.6L794.2,325.1L802.2,321.5L810.0,318.0L817.6,314.6L825.1,311.2L832.5,308.0L840.0,305.0L848.2,302.1L856.9,299.2L864.6,296.7L870.0,295.0" clip-path="url(#c14)" fill="none" stroke="#2a64e2" stroke-width="0.62" stroke-opacity="0.74"/><g clip-path="url(#c14)"><path d="M560.0,300.0C580.0,289.2 600.0,288.3 620.0,285.0C640.0,281.7 660.8,277.5 680.0,280.0C699.2,282.5 721.7,293.3 735.0,300.0C748.3,306.7 762.5,314.2 760.0,320.0C757.5,325.8 736.7,330.8 720.0,335.0C703.3,339.2 680.0,340.8 660.0,345.0C640.0,349.2 616.7,354.2 600.0,360.0C583.3,365.8 573.3,375.0 560.0,380.0C546.7,385.0 533.3,390.0 520.0,390.0C506.7,390.0 483.3,386.7 480.0,380.0C476.7,373.3 486.7,363.3 500.0,350.0C513.3,336.7 540.0,310.8 560.0,300.0Z" fill="#000070"  opacity="0.2"/><path d="M455.0,300.0C463.3,296.3 499.2,301.0 520.0,296.0C540.8,291.0 560.0,278.5 580.0,270.0C600.0,261.5 620.0,248.3 640.0,245.0C660.0,241.7 698.3,245.8 700.0,250.0C701.7,254.2 666.7,261.7 650.0,270.0C633.3,278.3 618.3,291.7 600.0,300.0C581.7,308.3 561.7,317.0 540.0,320.0C518.3,323.0 484.2,321.3 470.0,318.0C455.8,314.7 446.7,303.7 455.0,300.0Z" fill="#1030ff"  opacity="0.10"/></g><path d="M437,262L420,272L399,290" fill="none" stroke="#0707da" stroke-width="4" stroke-linecap="round" opacity="0.8"/><path d="M436,262C444,252 452,238 462,234.5S482,232.5 494,232.5S525,232 536,235" fill="none" stroke="#0505d2" stroke-width="4.5"/><path d="M434,260C442,251 450,238 461,232.5S482,230 494,230S525,229.5 536,232" fill="none" stroke="#2a70f0" stroke-width="0.8"/><path d="M497,243C515,247 540,250 575,262" fill="none" stroke="#0505d0" stroke-width="4"/><path d="M461.0,243.5C460.2,242.2 466.2,240.2 469.0,239.3C471.8,238.4 474.7,238.0 478.0,237.8C481.3,237.6 485.9,237.5 489.0,238.0C492.1,238.5 495.8,239.4 496.5,241.0C497.2,242.6 494.8,246.2 493.0,247.5C491.2,248.8 489.2,249.1 486.0,249.0C482.8,248.9 478.2,247.9 474.0,247.0C469.8,246.1 461.8,244.8 461.0,243.5Z" fill="#000" stroke="#3a80f4" stroke-width="1.0" /><path d="M436.0,280.0C437.3,277.6 443.5,274.0 450.0,271.5C456.5,269.0 466.7,266.8 475.0,265.0C483.3,263.2 492.8,262.0 500.0,261.0C507.2,260.0 513.5,258.8 518.0,259.0C522.5,259.2 525.5,260.5 527.0,262.0C528.5,263.5 528.7,266.2 527.0,268.0C525.3,269.8 521.8,271.5 517.0,273.0C512.2,274.5 501.5,275.5 498.0,277.0C494.5,278.5 499.8,280.2 496.0,282.0C492.2,283.8 481.8,286.8 475.0,288.0C468.2,289.2 460.5,289.3 455.0,289.0C449.5,288.7 445.2,287.5 442.0,286.0C438.8,284.5 434.7,282.4 436.0,280.0Z" fill="#000084" stroke="#1a80e0" stroke-width="0.8" /><path d="M498.0,277.0C499.2,275.0 501.8,273.2 505.0,272.0C508.2,270.8 513.8,269.8 517.0,270.0C520.2,270.2 523.2,271.3 524.0,273.0C524.8,274.7 524.3,278.2 522.0,280.0C519.7,281.8 514.0,283.3 510.0,284.0C506.0,284.7 500.0,285.2 498.0,284.0C496.0,282.8 496.8,279.0 498.0,277.0Z" fill="#0303c0" stroke="#1a80e0" stroke-width="0.7" /><path d="M497.0,287.0C498.8,285.3 503.5,283.5 508.0,283.0C512.5,282.5 520.8,282.8 524.0,284.0C527.2,285.2 527.7,288.0 527.0,290.0C526.3,292.0 523.7,294.8 520.0,296.0C516.3,297.2 508.8,297.5 505.0,297.0C501.2,296.5 498.3,294.7 497.0,293.0C495.7,291.3 495.2,288.7 497.0,287.0Z" fill="#0404d2" stroke="#2a66ea" stroke-width="0.7" /><path d="M497.0,287.0C498.8,285.3 503.5,283.5 508.0,283.0C512.5,282.5 520.8,282.8 524.0,284.0C527.2,285.2 527.7,288.0 527.0,290.0C526.3,292.0 523.7,294.8 520.0,296.0C516.3,297.2 508.8,297.5 505.0,297.0C501.2,296.5 498.3,294.7 497.0,293.0C495.7,291.3 495.2,288.7 497.0,287.0Z" fill="url(#p15)"/><path d="M452,282L505,266M455,285L508,269M450,279L500,264" stroke="#18a0e0" stroke-width="0.7" fill="none" opacity="0.8"/><ellipse cx="540.0" cy="221.5" rx="9.0" ry="12.0" fill="#000092" stroke="#2a9cf4" stroke-width="1" opacity="1" transform="rotate(-20 540 221.5)" /><ellipse cx="541.0" cy="222.5" rx="6.5" ry="9.0" fill="#00007c" stroke="#1a60d8" stroke-width="0.6" opacity="1" transform="rotate(-20 541 222.5)" /><path d="M533.4,195.6C533.4,194.5 535.3,193.0 538.0,192.0C540.7,191.0 545.9,189.6 549.6,189.4C553.3,189.2 556.6,190.1 560.0,191.0C563.4,191.9 567.0,193.6 570.0,195.0C573.0,196.4 577.4,198.1 577.7,199.3C578.0,200.5 575.0,201.2 572.0,202.0C569.0,202.8 563.2,203.8 560.0,204.0C556.8,204.2 555.0,203.7 552.5,203.5C552.2,205.3 552.0,207.2 551.7,209.0C549.6,209.0 547.5,209.0 545.4,209.0C545.4,206.3 545.4,203.5 545.4,200.8C542.9,200.0 540.0,199.4 538.0,198.5C536.0,197.6 533.4,196.7 533.4,195.6Z" fill="#0e54e6" stroke="#3aa0f8" stroke-width="0.9" /><path d="M533.4,195.6C533.4,194.5 535.3,193.0 538.0,192.0C540.7,191.0 545.9,189.6 549.6,189.4C553.3,189.2 556.6,190.1 560.0,191.0C563.4,191.9 567.0,193.6 570.0,195.0C573.0,196.4 577.4,198.1 577.7,199.3C578.0,200.5 575.0,201.2 572.0,202.0C569.0,202.8 563.2,203.8 560.0,204.0C556.8,204.2 555.0,203.7 552.5,203.5C552.2,205.3 552.0,207.2 551.7,209.0C549.6,209.0 547.5,209.0 545.4,209.0C545.4,206.3 545.4,203.5 545.4,200.8C542.9,200.0 540.0,199.4 538.0,198.5C536.0,197.6 533.4,196.7 533.4,195.6Z" fill="url(#p16)"/><path d="M417.5,246.0 L424.0,241.0 L432.5,247.0 L432.5,258.0 L426.0,262.0 L420.0,259.0Z" fill="#0404d2" stroke="#2a66ea" stroke-width="0.9" /><path d="M417.5,246.0 L424.0,241.0 L432.5,247.0 L432.5,258.0 L426.0,262.0 L420.0,259.0Z" fill="url(#p17)"/><path d="M470.0,322.0C471.7,320.3 486.7,320.3 495.0,320.0C503.3,319.7 513.3,319.5 520.0,320.0C526.7,320.5 531.8,321.5 535.0,323.0C538.2,324.5 539.0,326.9 539.0,329.0C539.0,331.1 538.2,334.0 535.0,335.5C531.8,337.0 525.3,338.1 520.0,338.0C514.7,337.9 508.8,336.3 503.0,335.0C497.2,333.7 490.5,332.2 485.0,330.0C479.5,327.8 468.3,323.7 470.0,322.0Z" fill="#00005a"  /><path d="M493.0,321.0C495.5,319.2 513.0,320.2 520.0,320.5C527.0,320.8 531.8,321.6 535.0,323.0C538.2,324.4 539.0,327.0 539.0,329.0C539.0,331.0 538.2,333.7 535.0,335.0C531.8,336.3 525.0,337.7 520.0,337.0C515.0,336.3 509.5,333.7 505.0,331.0C500.5,328.3 490.5,322.8 493.0,321.0Z" fill="#000030"  /><path d="M440.0,355.0 L458.0,360.0 L447.0,369.0Z" fill="#000060"  /><path d="M453.0,362.0 L485.0,368.0 L470.0,378.0 L462.0,389.0 L456.0,375.0Z" fill="#000060"  /><path d="M470.0,345.0C478.3,337.5 505.0,348.8 520.0,350.0C535.0,351.2 546.7,352.8 560.0,352.0C573.3,351.2 586.7,347.8 600.0,345.0C613.3,342.2 640.0,331.7 640.0,335.0C640.0,338.3 613.3,356.7 600.0,365.0C586.7,373.3 576.7,380.0 560.0,385.0C543.3,390.0 515.0,393.3 500.0,395.0C485.0,396.7 475.0,403.3 470.0,395.0C465.0,386.7 461.7,352.5 470.0,345.0Z" fill="#0404c0"  opacity="0.5"/><path d="M722.0,222.0C722.0,218.8 730.7,225.7 735.0,226.0C739.3,226.3 743.8,224.8 748.0,224.0C752.2,223.2 756.3,220.7 760.0,221.0C763.7,221.3 767.3,226.0 770.0,226.0C772.7,226.0 773.8,222.2 776.0,221.0C778.2,219.8 779.8,219.3 783.0,219.0C786.2,218.7 791.2,218.3 795.0,219.0C798.8,219.7 805.2,220.8 806.0,223.0C806.8,225.2 803.5,228.3 800.0,232.0C796.5,235.7 790.0,240.0 785.0,245.0C780.0,250.0 774.2,255.8 770.0,262.0C765.8,268.2 764.2,280.7 760.0,282.0C755.8,283.3 749.2,276.2 745.0,270.0C740.8,263.8 738.8,253.0 735.0,245.0C731.2,237.0 722.0,225.2 722.0,222.0Z" fill="#0303a8" stroke="#2a66ea" stroke-width="0.9" /><path d="M722.0,222.0C722.0,218.8 730.7,225.7 735.0,226.0C739.3,226.3 743.8,224.8 748.0,224.0C752.2,223.2 756.3,220.7 760.0,221.0C763.7,221.3 767.3,226.0 770.0,226.0C772.7,226.0 773.8,222.2 776.0,221.0C778.2,219.8 779.8,219.3 783.0,219.0C786.2,218.7 791.2,218.3 795.0,219.0C798.8,219.7 805.2,220.8 806.0,223.0C806.8,225.2 803.5,228.3 800.0,232.0C796.5,235.7 790.0,240.0 785.0,245.0C780.0,250.0 774.2,255.8 770.0,262.0C765.8,268.2 764.2,280.7 760.0,282.0C755.8,283.3 749.2,276.2 745.0,270.0C740.8,263.8 738.8,253.0 735.0,245.0C731.2,237.0 722.0,225.2 722.0,222.0Z" fill="url(#p18)"/><path d="M722,251.5L767,253.5M720.5,278.5L759,281M750,265L768,269" stroke="#0404c4" stroke-width="4.2" fill="none"/><path d="M722,249.6L767,251.6M720.5,276.6L759,279.1" stroke="#2a80f0" stroke-width="0.8" fill="none"/><path d="M722,253.6L767,255.6M720.5,280.6L759,283.1" stroke="#1a50d8" stroke-width="0.7" fill="none"/><ellipse cx="749.0" cy="264.0" rx="7.0" ry="9.0" fill="#0410a8" stroke="#2fb0f8" stroke-width="1" opacity="1" transform="rotate(10 749 264)" /><ellipse cx="749.0" cy="264.0" rx="3.5" ry="5.0" fill="#0a60d0" stroke="#2fb0f8" stroke-width="0.8" opacity="1" transform="rotate(10 749 264)" /><g><path d="M867.3,287.4C867.1,289.6 866.8,291.7 866.4,293.9C866.0,296.0 865.5,298.1 864.9,300.2C864.3,302.2 863.6,304.2 862.9,306.2C862.1,308.1 861.3,310.0 860.4,311.8C859.5,313.6 858.5,315.3 857.5,317.0C856.4,318.6 855.3,320.1 854.2,321.6C853.0,323.0 851.8,324.3 850.5,325.5C849.3,326.7 848.0,327.8 846.6,328.8C845.3,329.7 843.9,330.5 842.5,331.2C841.2,331.9 839.7,332.5 838.3,332.9C836.9,333.3 835.5,333.6 834.0,333.7C832.6,333.9 838.5,335.0 829.8,333.7C821.0,332.4 790.3,327.5 781.6,325.9C772.9,324.3 778.9,324.9 777.6,324.2C776.3,323.4 775.0,322.6 773.8,321.6C772.6,320.7 771.4,319.6 770.3,318.4C769.2,317.2 768.2,315.8 767.2,314.4C766.2,312.9 765.3,311.4 764.4,309.8C763.6,308.1 762.9,306.4 762.2,304.6C761.5,302.8 760.9,300.9 760.4,298.9C759.9,297.0 759.5,294.9 759.1,292.9C758.8,290.8 758.6,288.7 758.4,286.6C758.3,284.5 758.2,282.3 758.3,280.1C758.3,278.0 758.5,275.8 758.7,273.6C758.9,271.4 759.2,269.3 759.6,267.1C760.0,265.0 760.5,262.9 761.1,260.8C761.7,258.8 762.4,256.8 763.1,254.8C763.9,252.9 764.7,251.0 765.6,249.2C766.5,247.4 767.5,245.7 768.5,244.0C769.6,242.4 770.7,240.9 771.8,239.4C773.0,238.0 774.2,236.7 775.5,235.5C776.7,234.3 778.0,233.2 779.4,232.2C780.7,231.3 782.1,230.5 783.5,229.8C784.8,229.1 786.3,228.5 787.7,228.1C789.1,227.7 790.5,227.4 792.0,227.3C793.4,227.1 787.5,226.0 796.2,227.3C805.0,228.6 835.7,233.5 844.4,235.1C853.1,236.7 847.1,236.1 848.4,236.8C849.7,237.6 851.0,238.4 852.2,239.4C853.4,240.3 854.6,241.4 855.7,242.6C856.8,243.8 857.8,245.2 858.8,246.6C859.8,248.1 860.7,249.6 861.6,251.2C862.4,252.9 863.1,254.6 863.8,256.4C864.5,258.2 865.1,260.1 865.6,262.1C866.1,264.0 866.5,266.1 866.9,268.1C867.2,270.2 867.4,272.3 867.6,274.4C867.7,276.5 867.8,278.7 867.7,280.9C867.7,283.0 867.5,285.2 867.3,287.4Z" fill="url(#g20)" stroke="#2a66ea" stroke-width="1"/><g clip-path="url(#c19)" fill="none" stroke="#2a64e2" stroke-width="0.65" stroke-opacity="0.8"><ellipse cx="791.0" cy="277.0" rx="32.5" ry="50.0" transform="rotate(6 791.0 277.0)"/><ellipse cx="804.2" cy="279.1" rx="32.5" ry="50.0" transform="rotate(6 804.2 279.1)"/><ellipse cx="818.3" cy="281.3" rx="32.5" ry="50.0" transform="rotate(6 818.3 281.3)"/><ellipse cx="830.6" cy="283.3" rx="32.5" ry="50.0" transform="rotate(6 830.6 283.3)"/><path d="M823.3,280.4L867.3,287.4M821.9,289.0L865.9,296.0M819.6,297.2L863.6,304.2M816.4,304.8L860.4,311.8M812.4,311.6L856.4,318.6M807.8,317.3L851.8,324.3M802.6,321.8L846.6,328.8M797.1,324.9L841.1,331.9M791.5,326.6L835.5,333.6M785.8,326.7L829.8,333.7M780.2,325.4L824.2,332.4M775.0,322.6L819.0,329.6M770.3,318.4L814.3,325.4M766.2,312.9L810.2,319.9M762.9,306.4L806.9,313.4M760.4,298.9L804.4,305.9M758.8,290.8L802.8,297.8M758.3,282.3L802.3,289.3M758.7,273.6L802.7,280.6M760.1,265.0L804.1,272.0M762.4,256.8L806.4,263.8M765.6,249.2L809.6,256.2M769.6,242.4L813.6,249.4M774.2,236.7L818.2,243.7M779.4,232.2L823.4,239.2M784.9,229.1L828.9,236.1M790.5,227.4L834.5,234.4M796.2,227.3L840.2,234.3M801.8,228.6L845.8,235.6M807.0,231.4L851.0,238.4M811.7,235.6L855.7,242.6M815.8,241.1L859.8,248.1M819.1,247.6L863.1,254.6M821.6,255.1L865.6,262.1M823.2,263.2L867.2,270.2M823.7,271.7L867.7,278.7"/></g><ellipse cx="835.0" cy="284.0" rx="32.5" ry="50.0" transform="rotate(6 835.0 284.0)" fill="#0202b6" stroke="#2a98f4" stroke-width="1.2" stroke-opacity="0.85"/><ellipse cx="835.0" cy="284.0" rx="30.2" ry="46.5" transform="rotate(6 835.0 284.0)" fill="none" stroke="#2a64e2" stroke-width="0.7" stroke-opacity="1"/><ellipse cx="835.0" cy="284.0" rx="21.4" ry="33.0" transform="rotate(6 835.0 284.0)" fill="none" stroke="#2a8cf0" stroke-width="1.0" stroke-opacity="1"/><ellipse cx="835.0" cy="284.0" rx="16.2" ry="25.0" transform="rotate(6 835.0 284.0)" fill="none" stroke="#2a64e2" stroke-width="0.6" stroke-opacity="1"/><ellipse cx="835.0" cy="284.0" rx="12.3" ry="19.0" transform="rotate(6 835.0 284.0)" fill="none" stroke="#2a64e2" stroke-width="0.6" stroke-opacity="1"/><path d="M843.0,285.3L867.1,289.2M842.7,287.0L865.9,296.2M842.3,288.7L864.0,302.9M841.6,290.3L861.6,309.3M840.9,291.8L858.6,315.2M840.0,293.1L855.1,320.4M839.1,294.2L851.2,324.9M838.0,295.1L847.0,328.5M836.9,295.8L842.5,331.2M835.7,296.3L837.9,333.0M834.6,296.5L833.3,333.8M833.4,296.4L828.6,333.6M832.3,296.1L824.1,332.3M831.2,295.5L819.8,330.1M830.2,294.7L815.9,326.9M829.3,293.7L812.3,322.9M828.5,292.5L809.2,318.1M827.9,291.1L806.6,312.6M827.4,289.6L804.5,306.5M827.0,288.0L803.1,299.9M826.8,286.3L802.4,293.0M826.8,284.5L802.3,285.9M827.0,282.7L802.9,278.8M827.3,281.0L804.1,271.8M827.7,279.3L806.0,265.1M828.4,277.7L808.4,258.7M829.1,276.2L811.4,252.8M830.0,274.9L814.9,247.6M830.9,273.8L818.8,243.1M832.0,272.9L823.0,239.5M833.1,272.2L827.5,236.8M834.3,271.7L832.1,235.0M835.4,271.5L836.7,234.2M836.6,271.6L841.4,234.4M837.7,271.9L845.9,235.7M838.8,272.5L850.2,237.9M839.8,273.3L854.1,241.1M840.7,274.3L857.7,245.1M841.5,275.5L860.8,249.9M842.1,276.9L863.4,255.4M842.6,278.4L865.5,261.5M843.0,280.0L866.9,268.1M843.2,281.7L867.6,275.0M843.2,283.5L867.7,282.1" fill="none" stroke="#2a64e2" stroke-width="0.6" stroke-opacity="0.8"/><ellipse cx="835.0" cy="284.0" rx="8.1" ry="12.5" transform="rotate(6 835.0 284.0)" fill="#000090" stroke="#2a7ce8" stroke-width="0.9" stroke-opacity="1"/><ellipse cx="835.0" cy="284.0" rx="5.5" ry="8.5" transform="rotate(6 835.0 284.0)" fill="#000078" stroke="#2a64e2" stroke-width="0.6" stroke-opacity="1"/></g><g><path d="M317.2,321.0C317.2,322.9 317.1,324.8 316.9,326.7C316.7,328.6 316.4,330.5 315.9,332.3C315.5,334.1 315.0,335.9 314.3,337.7C313.7,339.5 313.0,341.2 312.1,342.8C311.3,344.5 310.4,346.1 309.3,347.6C308.3,349.1 307.2,350.5 306.0,351.9C304.9,353.2 303.6,354.5 302.3,355.6C301.0,356.8 299.6,357.9 298.1,358.8C296.7,359.8 295.2,360.6 293.6,361.3C292.1,362.1 290.5,362.7 288.9,363.2C287.3,363.7 285.6,364.0 284.0,364.3C282.3,364.5 280.7,364.6 279.0,364.6C277.3,364.6 281.0,364.7 274.0,364.3C267.0,363.8 244.0,362.6 237.0,361.8C230.0,361.1 233.4,360.6 231.7,359.8C230.0,359.0 228.4,358.1 226.8,357.0C225.1,355.9 223.6,354.8 222.1,353.5C220.7,352.2 219.3,350.8 217.9,349.3C216.6,347.8 215.4,346.2 214.3,344.5C213.2,342.9 212.1,341.1 211.2,339.2C210.3,337.4 209.4,335.5 208.7,333.6C208.0,331.6 207.4,329.6 206.9,327.6C206.5,325.5 206.1,323.4 205.9,321.3C205.6,319.2 205.5,317.1 205.5,315.0C205.5,312.9 205.6,310.8 205.9,308.7C206.1,306.6 206.5,304.5 206.9,302.4C207.4,300.4 208.0,298.4 208.7,296.4C209.4,294.5 210.3,292.6 211.2,290.8C212.1,288.9 213.2,287.1 214.3,285.5C215.4,283.8 216.6,282.2 217.9,280.7C219.3,279.2 220.7,277.8 222.1,276.5C223.6,275.2 225.1,274.1 226.7,273.0C228.4,271.9 230.0,271.0 231.7,270.2C233.4,269.4 235.2,268.7 237.0,268.2C238.8,267.6 240.6,267.2 242.5,266.9C244.3,266.6 246.2,266.5 248.0,266.5C249.8,266.5 246.7,264.9 253.5,266.9C260.4,269.0 282.2,276.5 288.9,278.8C295.6,281.1 292.1,279.9 293.6,280.7C295.2,281.4 296.7,282.2 298.1,283.2C299.6,284.1 301.0,285.2 302.3,286.4C303.6,287.5 304.9,288.8 306.0,290.1C307.2,291.5 308.3,292.9 309.3,294.4C310.4,295.9 311.3,297.5 312.1,299.2C313.0,300.8 313.7,302.5 314.3,304.3C315.0,306.1 315.5,307.9 315.9,309.7C316.4,311.5 316.7,313.4 316.9,315.3C317.1,317.2 317.2,319.1 317.2,321.0Z" fill="url(#g22)" stroke="#2a66ea" stroke-width="1"/><g clip-path="url(#c21)" fill="none" stroke="#2a64e2" stroke-width="0.65" stroke-opacity="0.8"><ellipse cx="248.0" cy="315.0" rx="42.5" ry="48.5" transform="rotate(0 248.0 315.0)"/><ellipse cx="255.8" cy="316.5" rx="41.4" ry="47.3" transform="rotate(0 255.8 316.5)"/><ellipse cx="263.5" cy="318.0" rx="40.4" ry="46.1" transform="rotate(0 263.5 318.0)"/><ellipse cx="271.2" cy="319.5" rx="39.3" ry="44.9" transform="rotate(0 271.2 319.5)"/><path d="M290.5,315.0L317.2,321.0M289.8,323.9L316.6,329.0M287.6,332.5L314.7,336.8M284.1,340.5L311.5,344.0M279.4,347.7L307.3,350.4M273.6,353.7L302.1,355.8M266.9,358.4L296.0,360.1M259.6,361.6L289.5,363.0M251.9,363.3L282.5,364.5M244.1,363.3L275.5,364.5M236.4,361.6L268.5,363.0M229.1,358.4L262.0,360.1M222.4,353.7L255.9,355.8M216.6,347.7L250.7,350.4M211.9,340.5L246.5,344.0M208.4,332.5L243.3,336.8M206.2,323.9L241.4,329.0M205.5,315.0L240.8,321.0M206.2,306.1L241.4,313.0M208.4,297.5L243.3,305.2M211.9,289.5L246.5,298.0M216.6,282.3L250.7,291.6M222.4,276.3L255.9,286.2M229.1,271.6L262.0,281.9M236.4,268.4L268.5,279.0M244.1,266.7L275.5,277.5M251.9,266.7L282.5,277.5M259.6,268.4L289.5,279.0M266.9,271.6L296.0,281.9M273.6,276.3L302.1,286.2M279.4,282.3L307.3,291.6M284.1,289.5L311.5,298.0M287.6,297.5L314.7,305.2M289.8,306.1L316.6,313.0"/></g><ellipse cx="279.0" cy="321.0" rx="38.2" ry="43.6" transform="rotate(0 279.0 321.0)" fill="#0202b6" stroke="#2a98f4" stroke-width="1.2" stroke-opacity="0.85"/><ellipse cx="279.0" cy="321.0" rx="35.6" ry="40.6" transform="rotate(0 279.0 321.0)" fill="none" stroke="#2a64e2" stroke-width="0.7" stroke-opacity="1"/><ellipse cx="279.0" cy="321.0" rx="32.9" ry="37.5" transform="rotate(0 279.0 321.0)" fill="#0202b0" stroke="#2a98f4" stroke-width="1.0" stroke-opacity="1"/><ellipse cx="279.0" cy="321.0" rx="30.6" ry="34.9" transform="rotate(0 279.0 321.0)" fill="none" stroke="#2a64e2" stroke-width="0.7" stroke-opacity="1"/><ellipse cx="279.0" cy="321.0" rx="27.5" ry="31.4" transform="rotate(0 279.0 321.0)" fill="none" stroke="#2aa8f4" stroke-width="0.9" stroke-opacity="1"/><ellipse cx="279.0" cy="321.0" rx="23.7" ry="27.1" transform="rotate(0 279.0 321.0)" fill="none" stroke="#2a64e2" stroke-width="0.6" stroke-opacity="1"/><ellipse cx="279.0" cy="321.0" rx="19.1" ry="21.8" transform="rotate(0 279.0 321.0)" fill="none" stroke="#2a9cf0" stroke-width="0.8" stroke-opacity="1"/><ellipse cx="279.0" cy="321.0" rx="14.5" ry="16.6" transform="rotate(0 279.0 321.0)" fill="none" stroke="#2a64e2" stroke-width="0.6" stroke-opacity="1"/><path d="M293.5,321.9L311.8,323.1M293.0,325.6L310.6,331.4M291.7,329.0L307.8,339.2M289.8,332.1L303.5,346.0M287.4,334.5L298.0,351.6M284.6,336.3L291.6,355.7M281.4,337.4L284.5,358.0M278.2,337.6L277.2,358.5M275.0,336.9L269.9,357.1M272.0,335.5L263.1,353.9M269.3,333.4L257.1,349.0M267.1,330.6L252.2,342.7M265.6,327.3L248.6,335.4M264.7,323.8L246.6,327.3M264.5,320.1L246.2,318.9M265.0,316.4L247.4,310.6M266.3,313.0L250.2,302.8M268.2,309.9L254.5,296.0M270.6,307.5L260.0,290.4M273.4,305.7L266.4,286.3M276.6,304.6L273.5,284.0M279.8,304.4L280.8,283.5M283.0,305.1L288.1,284.9M286.0,306.5L294.9,288.1M288.7,308.6L300.9,293.0M290.9,311.4L305.8,299.3M292.4,314.7L309.4,306.6M293.3,318.2L311.4,314.7" fill="none" stroke="#2a64e2" stroke-width="0.6" stroke-opacity="0.8"/><ellipse cx="279.0" cy="321.0" rx="9.6" ry="10.9" transform="rotate(0 279.0 321.0)" fill="#0303b8" stroke="#2a98f4" stroke-width="0.8" stroke-opacity="1"/></g><path d="M251.0,259.0C253.3,258.3 255.5,257.2 258.0,257.0C260.5,256.8 262.0,255.8 266.0,258.0C270.0,260.2 277.8,265.5 282.0,270.0C286.2,274.5 289.2,280.5 291.0,285.0C292.8,289.5 293.2,293.5 292.5,297.0C291.8,300.5 288.8,303.0 287.0,306.0C281.3,306.3 275.7,306.7 270.0,307.0C269.3,301.3 269.7,296.0 268.0,290.0C266.3,284.0 262.8,276.2 260.0,271.0C257.2,265.8 254.0,263.0 251.0,259.0Z" fill="#0404d2" stroke="#2a66ea" stroke-width="0.9" /><path d="M251.0,259.0C253.3,258.3 255.5,257.2 258.0,257.0C260.5,256.8 262.0,255.8 266.0,258.0C270.0,260.2 277.8,265.5 282.0,270.0C286.2,274.5 289.2,280.5 291.0,285.0C292.8,289.5 293.2,293.5 292.5,297.0C291.8,300.5 288.8,303.0 287.0,306.0C281.3,306.3 275.7,306.7 270.0,307.0C269.3,301.3 269.7,296.0 268.0,290.0C266.3,284.0 262.8,276.2 260.0,271.0C257.2,265.8 254.0,263.0 251.0,259.0Z" fill="url(#p23)"/><path d="M262.0,307.0C254.5,302.2 259.3,299.5 269.0,302.0C278.7,304.5 312.5,317.2 320.0,322.0C327.5,326.8 323.7,333.5 314.0,331.0C304.3,328.5 269.5,311.8 262.0,307.0Z" fill="#0404d2" stroke="#2a66ea" stroke-width="0.7" /><path d="M262.0,307.0C254.5,302.2 259.3,299.5 269.0,302.0C278.7,304.5 312.5,317.2 320.0,322.0C327.5,326.8 323.7,333.5 314.0,331.0C304.3,328.5 269.5,311.8 262.0,307.0Z" fill="url(#p24)"/><path d="M276.0,303.0C269.2,300.7 272.2,298.5 280.0,299.5C287.8,300.5 316.2,306.7 323.0,309.0C329.8,311.3 328.8,314.5 321.0,313.5C313.2,312.5 282.8,305.3 276.0,303.0Z" fill="#0404d2" stroke="#2a66ea" stroke-width="0.7" /><path d="M276.0,303.0C269.2,300.7 272.2,298.5 280.0,299.5C287.8,300.5 316.2,306.7 323.0,309.0C329.8,311.3 328.8,314.5 321.0,313.5C313.2,312.5 282.8,305.3 276.0,303.0Z" fill="url(#p25)"/><path d="M303.5,304.0C304.0,300.5 307.7,299.5 309.0,302.5C310.3,305.5 312.0,318.5 311.5,322.0C311.0,325.5 307.3,326.5 306.0,323.5C304.7,320.5 303.0,307.5 303.5,304.0Z" fill="#0404d2" stroke="#2a90f0" stroke-width="0.7" /><path d="M197.3,309.3C191.5,312.9 185.4,316.4 180.0,320.0C174.6,323.6 169.5,327.2 165.0,331.0C160.5,334.8 156.1,338.8 153.0,343.0C149.9,347.2 148.1,351.5 146.5,356.0C144.9,360.5 144.0,363.5 143.5,370.0C143.0,376.5 143.1,386.7 143.5,395.0C143.9,403.3 144.6,414.0 146.0,420.0C147.4,426.0 150.0,427.3 152.0,431.0C159.7,427.3 167.0,426.8 175.0,420.0C183.0,413.2 196.2,400.0 200.0,390.0C203.8,380.0 198.9,367.8 198.0,360.0C197.1,352.2 195.1,348.5 194.7,343.0C194.2,337.5 194.9,332.6 195.3,327.0C195.7,321.4 196.6,315.2 197.3,309.3Z" fill="#0202c2" stroke="#2a66ea" stroke-width="0.9" /><path d="M197.3,309.3C191.5,312.9 185.4,316.4 180.0,320.0C174.6,323.6 169.5,327.2 165.0,331.0C160.5,334.8 156.1,338.8 153.0,343.0C149.9,347.2 148.1,351.5 146.5,356.0C144.9,360.5 144.0,363.5 143.5,370.0C143.0,376.5 143.1,386.7 143.5,395.0C143.9,403.3 144.6,414.0 146.0,420.0C147.4,426.0 150.0,427.3 152.0,431.0C159.7,427.3 167.0,426.8 175.0,420.0C183.0,413.2 196.2,400.0 200.0,390.0C203.8,380.0 198.9,367.8 198.0,360.0C197.1,352.2 195.1,348.5 194.7,343.0C194.2,337.5 194.9,332.6 195.3,327.0C195.7,321.4 196.6,315.2 197.3,309.3Z" fill="url(#p6)"/><path d="M152.0,431.0C151.3,424.0 148.7,416.8 150.0,410.0C151.3,403.2 155.8,395.3 160.0,390.0C164.2,384.7 168.7,381.7 175.0,378.0C181.3,374.3 191.3,369.0 198.0,368.0C204.7,367.0 210.5,371.8 215.0,372.0C219.5,372.2 227.5,366.7 225.0,369.0C222.5,371.3 208.3,380.0 200.0,386.0C191.7,392.0 182.2,399.0 175.0,405.0C167.8,411.0 160.8,417.7 157.0,422.0C153.2,426.3 153.7,428.0 152.0,431.0Z" fill="#0202c2" stroke="#2a66ea" stroke-width="0.9" /><path d="M152.0,431.0C151.3,424.0 148.7,416.8 150.0,410.0C151.3,403.2 155.8,395.3 160.0,390.0C164.2,384.7 168.7,381.7 175.0,378.0C181.3,374.3 191.3,369.0 198.0,368.0C204.7,367.0 210.5,371.8 215.0,372.0C219.5,372.2 227.5,366.7 225.0,369.0C222.5,371.3 208.3,380.0 200.0,386.0C191.7,392.0 182.2,399.0 175.0,405.0C167.8,411.0 160.8,417.7 157.0,422.0C153.2,426.3 153.7,428.0 152.0,431.0Z" fill="url(#p26)"/><path d="M198.0,359.0C199.3,353.5 205.0,353.5 208.0,352.0C211.0,350.5 213.3,350.0 216.0,350.0C218.7,350.0 222.1,350.7 224.0,352.0C225.9,353.3 227.0,355.8 227.5,358.0C228.0,360.2 229.1,361.3 227.0,365.0C224.9,368.7 219.5,376.7 215.0,380.0C210.5,383.3 202.8,388.5 200.0,385.0C197.2,381.5 196.7,364.5 198.0,359.0Z" fill="#0404d2" stroke="#2a66ea" stroke-width="0.9" /><path d="M198.0,359.0C199.3,353.5 205.0,353.5 208.0,352.0C211.0,350.5 213.3,350.0 216.0,350.0C218.7,350.0 222.1,350.7 224.0,352.0C225.9,353.3 227.0,355.8 227.5,358.0C228.0,360.2 229.1,361.3 227.0,365.0C224.9,368.7 219.5,376.7 215.0,380.0C210.5,383.3 202.8,388.5 200.0,385.0C197.2,381.5 196.7,364.5 198.0,359.0Z" fill="url(#p27)"/><path d="M163,372C166,380 172,386 180,388M186,370C190,376 196,380 203,380" stroke="#000060" stroke-width="1.2" fill="none"/><path d="M240.0,405.0C239.0,403.8 251.5,399.5 256.0,395.0C260.5,390.5 257.8,385.8 267.0,378.0C276.2,370.2 298.3,355.5 311.0,348.0C323.7,340.5 336.2,333.5 343.0,333.0C349.8,332.5 350.8,339.7 352.0,345.0C353.2,350.3 351.7,358.8 350.0,365.0C348.3,371.2 346.5,378.2 342.0,382.0C337.5,385.8 330.0,385.7 323.0,388.0C316.0,390.3 306.3,394.0 300.0,396.0C293.7,398.0 291.3,399.0 285.0,400.0C278.7,401.0 269.5,401.2 262.0,402.0C254.5,402.8 241.0,406.2 240.0,405.0Z" fill="#0202bc"  /><path d="M240.0,405.0C239.0,403.8 251.5,399.5 256.0,395.0C260.5,390.5 257.8,385.8 267.0,378.0C276.2,370.2 298.3,355.5 311.0,348.0C323.7,340.5 336.2,333.5 343.0,333.0C349.8,332.5 350.8,339.7 352.0,345.0C353.2,350.3 351.7,358.8 350.0,365.0C348.3,371.2 346.5,378.2 342.0,382.0C337.5,385.8 330.0,385.7 323.0,388.0C316.0,390.3 306.3,394.0 300.0,396.0C293.7,398.0 291.3,399.0 285.0,400.0C278.7,401.0 269.5,401.2 262.0,402.0C254.5,402.8 241.0,406.2 240.0,405.0Z" fill="url(#p28)"/><path d="M152.0,431.0C155.0,434.2 155.2,437.5 161.0,440.5C166.8,443.5 178.8,445.9 187.0,449.0C195.2,452.1 202.3,455.5 210.0,459.0C217.7,462.5 226.3,466.8 233.0,470.0C239.7,473.2 244.2,475.3 250.0,478.0C255.8,480.7 261.5,483.5 268.0,486.0C274.5,488.5 282.0,490.7 289.0,493.0C289.9,485.3 290.1,476.7 291.7,470.0C293.3,463.3 296.0,458.5 298.7,453.0C301.4,447.5 303.8,442.0 308.0,437.0C312.2,432.0 318.7,427.7 324.0,423.0C321.7,420.7 320.5,419.2 317.0,416.0C313.5,412.8 307.2,406.7 303.0,404.0C298.8,401.3 295.8,400.9 292.0,400.0C288.2,399.1 284.0,398.5 280.0,398.5C276.0,398.5 271.9,399.2 268.0,400.0C264.1,400.8 261.4,401.5 256.7,403.0C252.0,404.5 246.3,406.8 240.0,409.0C233.7,411.2 226.0,413.3 219.0,416.0C212.0,418.7 205.3,422.2 198.0,425.0C190.7,427.8 182.7,432.0 175.0,433.0C167.3,434.0 159.7,431.7 152.0,431.0Z" fill="#0202c2" stroke="#2a66ea" stroke-width="0.9" /><path d="M190.0,428.0L187.9,428.0L185.8,428.0L183.7,428.0L181.6,428.0L179.5,428.1L177.4,428.2L175.4,428.4L173.3,428.7L171.2,429.0L169.1,429.3L167.1,429.6L165.0,430.0L162.9,430.4L160.9,430.7L158.8,431.0L156.7,431.3L154.6,431.6L152.6,431.8L150.5,431.9L148.4,432.0L146.3,432.0L144.2,432.0L142.1,432.0L140.0,432.0M196.6,424.8L194.5,425.0L192.3,425.2L190.2,425.4L188.1,425.7L186.0,426.0L183.9,426.4L181.8,426.8L179.7,427.3L177.6,427.8L175.5,428.3L173.4,428.9L171.4,429.5L169.3,430.1L167.2,430.6L165.2,431.2L163.1,431.7L161.0,432.1L158.9,432.6L156.8,432.9L154.7,433.2L152.5,433.5L150.4,433.7L148.3,433.9L146.1,434.1M205.0,421.0L202.8,421.5L200.6,422.0L198.5,422.5L196.3,423.0L194.1,423.6L192.0,424.2L189.9,424.9L187.8,425.7L185.7,426.5L183.6,427.3L181.6,428.1L179.5,429.0L177.4,429.9L175.4,430.7L173.3,431.5L171.2,432.3L169.1,433.1L167.0,433.8L164.9,434.4L162.7,435.0L160.5,435.5L158.4,436.0L156.2,436.5L154.0,437.0M211.6,418.5L209.4,419.2L207.2,419.9L205.0,420.6L202.8,421.4L200.6,422.2L198.5,423.1L196.4,424.0L194.3,424.9L192.2,425.9L190.1,427.0L188.1,428.1L186.0,429.2L183.9,430.2L181.9,431.3L179.8,432.4L177.7,433.4L175.6,434.3L173.5,435.3L171.4,436.1L169.2,436.9L167.0,437.7L164.8,438.4L162.6,439.1L160.4,439.8M219.0,416.0L216.8,416.9L214.5,417.9L212.3,418.8L210.1,419.8L208.0,420.9L205.8,422.0L203.7,423.1L201.6,424.3L199.6,425.6L197.5,426.9L195.5,428.2L193.5,429.5L191.5,430.8L189.5,432.1L187.4,433.4L185.4,434.7L183.3,435.9L181.2,437.0L179.0,438.1L176.9,439.2L174.7,440.2L172.5,441.1L170.2,442.1L168.0,443.0M229.3,412.6L227.1,413.8L224.9,415.1L222.8,416.3L220.6,417.6L218.5,419.0L216.4,420.4L214.4,421.9L212.4,423.4L210.4,424.9L208.4,426.5L206.5,428.1L204.5,429.7L202.6,431.3L200.7,432.9L198.7,434.5L196.7,436.1L194.7,437.6L192.7,439.0L190.6,440.4L188.5,441.8L186.3,443.1L184.1,444.4L181.9,445.6L179.8,446.9M240.0,409.0L237.8,410.6L235.7,412.1L233.6,413.7L231.5,415.4L229.4,417.1L227.4,418.8L225.4,420.6L223.5,422.4L221.6,424.2L219.7,426.1L217.8,428.1L216.0,430.0L214.2,431.9L212.3,433.9L210.4,435.8L208.5,437.6L206.6,439.4L204.6,441.2L202.6,442.9L200.5,444.6L198.4,446.3L196.3,447.9L194.2,449.4L192.0,451.0M249.0,405.8L246.8,407.6L244.6,409.5L242.5,411.4L240.4,413.4L238.4,415.3L236.4,417.4L234.4,419.4L232.5,421.6L230.7,423.7L228.8,425.9L227.0,428.2L225.3,430.4L223.5,432.6L221.7,434.9L219.9,437.1L218.0,439.2L216.1,441.4L214.2,443.4L212.2,445.5L210.1,447.5L208.0,449.4L205.9,451.3L203.7,453.2L201.6,455.1M256.7,403.0L254.5,405.2L252.4,407.3L250.3,409.5L248.2,411.7L246.2,414.0L244.2,416.3L242.3,418.7L240.4,421.1L238.6,423.5L236.8,426.0L235.1,428.5L233.3,431.0L231.6,433.5L229.9,436.0L228.1,438.5L226.3,440.9L224.4,443.3L222.5,445.7L220.5,448.0L218.5,450.3L216.4,452.5L214.3,454.7L212.2,456.8L210.0,459.0M262.6,401.2L260.5,403.6L258.4,406.0L256.4,408.4L254.4,410.9L252.4,413.3L250.5,415.9L248.6,418.5L246.9,421.1L245.1,423.7L243.5,426.4L241.8,429.2L240.2,431.9L238.5,434.6L236.9,437.3L235.2,440.0L233.5,442.7L231.7,445.3L229.8,447.9L227.9,450.4L226.0,452.9L224.0,455.4L221.9,457.8L219.8,460.2L217.7,462.6M268.0,400.0L266.0,402.6L263.9,405.2L261.9,407.8L260.0,410.4L258.1,413.1L256.3,415.9L254.5,418.6L252.8,421.4L251.2,424.3L249.6,427.2L248.0,430.1L246.5,433.0L245.0,435.9L243.4,438.8L241.8,441.7L240.2,444.6L238.5,447.4L236.7,450.1L234.9,452.9L233.0,455.6L231.1,458.2L229.1,460.8L227.0,463.4L225.0,466.0M274.0,399.0L272.0,401.7L270.0,404.5L268.0,407.3L266.1,410.2L264.3,413.1L262.5,416.0L260.8,418.9L259.2,421.9L257.7,425.0L256.2,428.0L254.7,431.1L253.2,434.2L251.8,437.3L250.3,440.4L248.8,443.5L247.2,446.5L245.6,449.5L243.9,452.5L242.2,455.4L240.3,458.3L238.4,461.1L236.5,463.9L234.5,466.7L232.5,469.5M280.0,398.5L278.0,401.4L276.1,404.4L274.2,407.4L272.4,410.4L270.6,413.4L268.9,416.5L267.3,419.6L265.7,422.8L264.2,426.0L262.8,429.2L261.4,432.5L260.0,435.8L258.6,439.0L257.2,442.3L255.8,445.5L254.3,448.7L252.7,451.9L251.1,455.0L249.4,458.1L247.6,461.1L245.8,464.1L243.9,467.1L242.0,470.1L240.0,473.0M286.1,398.9L284.2,402.0L282.3,405.1L280.4,408.2L278.6,411.3L276.9,414.5L275.3,417.7L273.7,421.0L272.2,424.3L270.8,427.6L269.5,431.0L268.1,434.3L266.8,437.7L265.5,441.1L264.2,444.5L262.9,447.8L261.4,451.2L260.0,454.5L258.4,457.7L256.8,460.9L255.0,464.1L253.3,467.3L251.4,470.4L249.5,473.5L247.6,476.6M292.0,400.0L290.1,403.2L288.3,406.4L286.5,409.6L284.8,412.9L283.1,416.1L281.6,419.4L280.0,422.8L278.6,426.2L277.3,429.6L276.0,433.1L274.7,436.5L273.5,440.0L272.3,443.5L271.0,446.9L269.7,450.4L268.4,453.8L267.0,457.2L265.4,460.6L263.9,463.9L262.2,467.1L260.5,470.4L258.7,473.6L256.9,476.8L255.0,480.0M297.4,401.3L295.6,404.6L293.8,407.9L292.0,411.2L290.3,414.5L288.7,417.9L287.2,421.3L285.7,424.7L284.4,428.1L283.1,431.6L281.8,435.2L280.6,438.7L279.5,442.2L278.3,445.8L277.1,449.3L275.9,452.8L274.6,456.3L273.2,459.8L271.7,463.2L270.2,466.6L268.6,470.0L266.9,473.3L265.2,476.6L263.4,479.9L261.6,483.1M303.0,404.0L301.2,407.3L299.5,410.6L297.8,413.9L296.1,417.2L294.5,420.6L293.0,424.0L291.6,427.4L290.3,430.9L289.0,434.4L287.8,437.9L286.6,441.4L285.5,445.0L284.4,448.6L283.2,452.1L282.0,455.6L280.7,459.1L279.4,462.6L278.0,466.0L276.5,469.4L274.9,472.8L273.2,476.1L271.5,479.4L269.8,482.7L268.0,486.0M310.1,409.7L308.4,412.8L306.6,416.0L304.9,419.2L303.3,422.4L301.7,425.6L300.2,428.9L298.8,432.2L297.4,435.6L296.2,438.9L294.9,442.3L293.8,445.8L292.6,449.2L291.5,452.6L290.3,456.0L289.1,459.4L287.8,462.8L286.5,466.2L285.1,469.5L283.6,472.7L282.0,476.0L280.3,479.2L278.6,482.4L276.9,485.5L275.1,488.7M317.0,416.0L315.3,419.0L313.5,422.0L311.8,425.0L310.2,428.0L308.6,431.1L307.1,434.2L305.7,437.4L304.4,440.5L303.1,443.8L301.9,447.0L300.7,450.2L299.5,453.5L298.3,456.8L297.1,460.0L295.9,463.2L294.6,466.5L293.3,469.6L291.9,472.8L290.4,475.9L288.8,479.0L287.2,482.0L285.5,485.0L283.7,488.0L282.0,491.0M321.9,420.6L320.2,423.4L318.5,426.3L316.8,429.2L315.3,432.1L313.7,435.1L312.3,438.1L310.9,441.1L309.6,444.1L308.3,447.2L307.1,450.3L306.0,453.5L304.8,456.6L303.7,459.7L302.5,462.9L301.3,466.0L300.1,469.0L298.7,472.1L297.4,475.1L295.9,478.1L294.4,481.1L292.8,484.0L291.1,486.9L289.5,489.8L287.8,492.6M326.0,425.0L324.4,427.7L322.7,430.5L321.1,433.3L319.6,436.1L318.1,438.9L316.7,441.8L315.4,444.6L314.1,447.6L312.9,450.5L311.7,453.5L310.6,456.5L309.5,459.5L308.4,462.5L307.3,465.5L306.1,468.5L304.9,471.4L303.6,474.4L302.3,477.2L300.9,480.1L299.4,482.9L297.9,485.7L296.3,488.5L294.6,491.3L293.0,494.0M330.6,431.1L329.0,433.6L327.4,436.2L325.9,438.8L324.4,441.4L323.0,444.1L321.6,446.7L320.3,449.4L319.1,452.2L317.9,455.0L316.8,457.8L315.7,460.6L314.6,463.4L313.5,466.2L312.5,469.0L311.3,471.8L310.2,474.6L308.9,477.3L307.6,480.0L306.3,482.7L304.8,485.3L303.4,487.9L301.8,490.5L300.3,493.1L298.7,495.7M334.0,436.0L332.5,438.4L331.0,440.9L329.5,443.3L328.0,445.8L326.7,448.3L325.3,450.8L324.1,453.3L322.9,455.9L321.7,458.5L320.6,461.2L319.6,463.8L318.5,466.5L317.4,469.2L316.4,471.8L315.3,474.5L314.1,477.1L312.9,479.7L311.7,482.2L310.3,484.7L309.0,487.2L307.5,489.7L306.0,492.1L304.5,494.6L303.0,497.0M190.0,428.0L192.7,426.7L196.6,424.8L201.0,422.8L205.0,421.0L208.4,419.7L211.6,418.5L215.0,417.3L219.0,416.0L223.9,414.4L229.3,412.6L234.9,410.7L240.0,409.0L244.6,407.4L249.0,405.8L253.0,404.3L256.7,403.0L259.9,402.0L262.6,401.2L265.3,400.6L268.0,400.0L271.0,399.4L274.0,399.0L277.0,398.6L280.0,398.5L283.0,398.6L286.1,398.9L289.1,399.4L292.0,400.0L294.8,400.6L297.4,401.3L300.1,402.4L303.0,404.0L306.4,406.5L310.1,409.7L313.8,413.0L317.0,416.0L319.6,418.4L321.9,420.6L323.9,422.7L326.0,425.0L328.3,427.9L330.6,431.1L332.6,434.0L334.0,436.0M185.4,428.0L188.1,426.8L192.0,425.2L196.2,423.5L200.2,422.0L203.6,420.9L206.8,420.0L210.2,419.1L214.1,418.0L219.0,416.7L224.5,415.3L230.2,413.8L235.3,412.4L239.9,411.1L244.2,409.8L248.3,408.7L252.0,407.7L255.2,407.0L258.1,406.4L260.7,406.0L263.6,405.7L266.6,405.3L269.6,405.0L272.7,404.9L275.8,404.9L278.8,405.2L281.9,405.7L285.0,406.2L288.0,407.0L290.8,407.7L293.5,408.5L296.2,409.6L299.2,411.2L302.6,413.6L306.3,416.6L310.0,419.7L313.2,422.5L315.9,424.8L318.2,426.8L320.3,428.8L322.4,431.0L324.8,433.7L327.1,436.7L329.2,439.4L330.7,441.3M180.9,428.0L183.5,427.1L187.3,425.8L191.6,424.4L195.5,423.2L198.9,422.4L202.0,421.7L205.4,421.0L209.4,420.2L214.3,419.2L219.8,418.1L225.5,417.0L230.7,416.0L235.3,415.0L239.7,414.1L243.7,413.2L247.4,412.5L250.7,412.1L253.6,411.8L256.4,411.6L259.3,411.4L262.3,411.3L265.5,411.2L268.6,411.3L271.7,411.5L274.9,411.9L278.0,412.5L281.1,413.2L284.2,414.0L287.0,414.9L289.7,415.7L292.5,416.8L295.5,418.4L299.0,420.7L302.7,423.6L306.4,426.5L309.6,429.2L312.3,431.3L314.7,433.2L316.9,435.1L319.1,437.1L321.4,439.6L323.9,442.4L326.0,444.9L327.5,446.7M176.3,428.3L178.9,427.6L182.7,426.6L186.9,425.5L190.9,424.6L194.2,424.0L197.3,423.6L200.7,423.1L204.7,422.6L209.7,421.9L215.3,421.2L221.0,420.4L226.3,419.7L230.9,419.1L235.3,418.5L239.4,418.0L243.1,417.6L246.5,417.4L249.5,417.3L252.3,417.3L255.3,417.4L258.4,417.5L261.6,417.6L264.8,417.8L268.0,418.2L271.2,418.8L274.4,419.5L277.6,420.3L280.7,421.3L283.6,422.2L286.4,423.1L289.2,424.3L292.2,425.8L295.7,428.0L299.4,430.7L303.1,433.5L306.3,435.9L309.1,437.9L311.5,439.7L313.7,441.4L316.0,443.3L318.4,445.6L320.9,448.2L323.1,450.6L324.6,452.2M171.8,428.9L174.4,428.4L178.2,427.6L182.4,426.8L186.3,426.2L189.6,425.9L192.7,425.7L196.1,425.5L200.1,425.2L205.2,424.9L210.9,424.5L216.7,424.1L222.1,423.7L226.8,423.4L231.2,423.1L235.3,422.9L239.1,422.8L242.5,422.9L245.6,423.0L248.6,423.2L251.6,423.5L254.8,423.8L258.1,424.1L261.3,424.6L264.6,425.1L267.9,425.9L271.2,426.7L274.5,427.7L277.6,428.7L280.6,429.7L283.4,430.7L286.3,431.9L289.3,433.4L292.8,435.5L296.5,438.0L300.1,440.6L303.4,442.9L306.2,444.7L308.6,446.4L310.9,448.0L313.2,449.7L315.7,451.8L318.2,454.2L320.5,456.3L322.0,457.8M167.3,429.6L169.9,429.3L173.6,428.8L177.8,428.4L181.8,428.1L185.1,428.0L188.2,428.0L191.6,428.0L195.7,428.1L200.8,428.0L206.6,427.9L212.6,427.9L218.0,427.9L222.8,427.9L227.2,428.0L231.3,428.1L235.2,428.3L238.8,428.5L241.9,428.9L245.0,429.3L248.2,429.8L251.5,430.3L254.8,430.9L258.2,431.5L261.5,432.2L264.9,433.1L268.3,434.0L271.6,435.1L274.8,436.2L277.9,437.3L280.8,438.4L283.7,439.6L286.7,441.1L290.2,443.1L293.9,445.4L297.5,447.8L300.8,449.9L303.6,451.7L306.1,453.2L308.4,454.6L310.7,456.2L313.2,458.2L315.8,460.3L318.1,462.2L319.7,463.6M162.7,430.4L165.4,430.3L169.1,430.1L173.3,430.0L177.2,429.9L180.6,430.1L183.8,430.3L187.2,430.6L191.3,430.9L196.5,431.2L202.4,431.5L208.5,431.8L214.0,432.1L218.8,432.5L223.3,432.8L227.5,433.3L231.5,433.7L235.1,434.3L238.4,434.9L241.6,435.5L244.8,436.2L248.2,436.9L251.6,437.6L255.1,438.4L258.5,439.3L261.9,440.3L265.4,441.4L268.9,442.6L272.2,443.8L275.2,444.9L278.2,446.1L281.1,447.4L284.3,448.9L287.7,450.8L291.4,452.9L295.0,455.1L298.2,457.1L301.0,458.6L303.6,460.0L305.9,461.3L308.3,462.8L310.8,464.5L313.4,466.4L315.7,468.2L317.3,469.4M158.2,431.1L160.8,431.2L164.6,431.3L168.8,431.5L172.7,431.8L176.1,432.2L179.3,432.6L182.7,433.2L186.9,433.8L192.1,434.3L198.2,435.0L204.3,435.6L209.9,436.3L214.8,437.0L219.4,437.7L223.6,438.4L227.6,439.2L231.3,440.0L234.7,440.8L238.0,441.6L241.4,442.5L244.9,443.4L248.4,444.3L251.9,445.3L255.4,446.4L258.9,447.5L262.5,448.8L266.0,450.0L269.4,451.3L272.5,452.6L275.5,453.8L278.5,455.1L281.7,456.6L285.1,458.4L288.7,460.4L292.3,462.4L295.6,464.1L298.4,465.6L301.0,466.8L303.4,468.0L305.8,469.3L308.4,470.8L311.0,472.5L313.3,474.1L315.0,475.2M153.7,431.7L156.3,431.9L160.0,432.3L164.2,432.8L168.1,433.4L171.5,434.0L174.7,434.8L178.1,435.6L182.3,436.4L187.6,437.3L193.8,438.3L200.0,439.3L205.7,440.3L210.7,441.3L215.2,442.3L219.5,443.4L223.6,444.4L227.4,445.5L230.9,446.5L234.2,447.6L237.7,448.6L241.3,449.7L244.9,450.9L248.4,452.0L252.0,453.3L255.6,454.6L259.3,456.0L262.8,457.4L266.3,458.7L269.5,460.1L272.5,461.4L275.6,462.7L278.8,464.2L282.2,465.8L285.8,467.7L289.4,469.5L292.7,471.1L295.5,472.4L298.1,473.5L300.6,474.5L303.0,475.7L305.6,477.0L308.3,478.5L310.7,479.9L312.4,480.8M149.1,432.0L151.7,432.4L155.4,433.1L159.6,433.9L163.5,434.8L166.8,435.7L170.0,436.6L173.4,437.7L177.6,438.8L183.0,440.0L189.2,441.3L195.6,442.7L201.3,444.0L206.3,445.4L210.9,446.7L215.1,448.1L219.3,449.5L223.1,450.8L226.7,452.0L230.2,453.3L233.7,454.6L237.4,455.9L241.0,457.2L244.6,458.6L248.3,460.0L252.0,461.5L255.7,463.0L259.3,464.5L262.8,466.0L266.1,467.4L269.2,468.7L272.3,470.1L275.5,471.6L278.9,473.1L282.6,474.8L286.1,476.4L289.4,477.8L292.3,479.0L294.9,480.0L297.5,480.9L299.9,481.9L302.6,483.1L305.4,484.4L307.8,485.5L309.5,486.3M144.6,432.0L147.1,432.7L150.8,433.7L154.9,434.8L158.8,436.0L162.1,437.1L165.2,438.3L168.6,439.6L172.9,441.0L178.3,442.5L184.5,444.2L190.9,445.9L196.7,447.6L201.7,449.3L206.3,451.0L210.6,452.7L214.7,454.3L218.6,455.8L222.3,457.4L225.8,458.8L229.4,460.3L233.1,461.9L236.8,463.4L240.5,465.0L244.2,466.6L248.0,468.2L251.7,469.8L255.5,471.4L259.0,473.0L262.3,474.5L265.5,476.0L268.6,477.4L271.8,478.8L275.3,480.3L278.9,481.8L282.5,483.2L285.8,484.5L288.7,485.5L291.4,486.4L294.0,487.1L296.6,488.0L299.3,489.0L302.1,490.1L304.6,491.0L306.3,491.7M140.0,432.0L142.5,432.9L146.1,434.1L150.2,435.6L154.0,437.0L157.3,438.4L160.4,439.8L163.8,441.3L168.0,443.0L173.4,444.9L179.8,446.9L186.2,449.0L192.0,451.0L197.0,453.0L201.6,455.1L205.9,457.1L210.0,459.0L214.0,460.8L217.7,462.6L221.3,464.3L225.0,466.0L228.8,467.8L232.5,469.5L236.2,471.2L240.0,473.0L243.8,474.8L247.6,476.6L251.4,478.3L255.0,480.0L258.4,481.6L261.6,483.1L264.7,484.6L268.0,486.0L271.5,487.4L275.1,488.7L278.7,489.9L282.0,491.0L285.0,491.9L287.8,492.6L290.4,493.3L293.0,494.0L295.8,494.8L298.7,495.7L301.2,496.5L303.0,497.0" clip-path="url(#c29)" fill="none" stroke="#2a64e2" stroke-width="0.65" stroke-opacity="0.9"/><path d="M219,418C235,420 258,425 280,434.5S296,443 301,446" stroke="#000050" stroke-width="1.3" fill="none"/><path d="M196,430C215,435 235,442 268,458S288,468 294,472" stroke="#000050" stroke-width="1.3" fill="none"/><path d="M219,416.8C235,418.8 258,423.8 280,433.3S296,441.8 301,444.8" stroke="#4a90ff" stroke-width="0.7" fill="none"/><path d="M196,428.8C215,433.8 235,440.8 268,456.8S288,466.8 294,470.8" stroke="#4a90ff" stroke-width="0.7" fill="none"/><path d="M151.7,430.0C153.5,427.3 154.3,425.2 157.0,422.0C159.7,418.8 163.7,414.8 168.0,411.0C172.3,407.2 178.0,402.8 183.0,399.0C188.0,395.2 192.0,392.2 198.0,388.0C204.0,383.8 212.0,378.7 219.0,374.0C226.0,369.3 232.0,365.3 240.0,360.0C248.0,354.7 257.8,347.5 267.0,342.0C276.2,336.5 285.3,332.3 295.0,327.0C304.7,321.7 314.7,315.2 325.0,310.0C335.3,304.8 347.8,299.7 357.0,296.0C366.2,292.3 372.8,290.3 380.0,288.0C387.2,285.7 393.3,284.0 400.0,282.0C405.0,288.0 415.0,295.0 415.0,300.0C415.0,305.0 407.5,308.3 400.0,312.0C392.5,315.7 380.0,318.2 370.0,322.0C360.0,325.8 349.8,330.7 340.0,335.0C330.2,339.3 319.3,343.2 311.0,348.0C302.7,352.8 297.3,358.2 290.0,364.0C282.7,369.8 272.7,377.7 267.0,383.0C261.3,388.3 260.5,392.0 256.0,396.0C251.5,400.0 246.2,403.7 240.0,407.0C233.8,410.3 226.0,413.0 219.0,416.0C212.0,419.0 205.3,421.9 198.0,425.0C190.7,428.1 181.7,432.4 175.0,434.7C168.3,437.0 161.9,439.8 158.0,439.0C154.1,438.2 153.8,433.0 151.7,430.0Z" fill="#0303c4"  /><path d="M151.7,430.0C153.5,427.3 154.3,425.2 157.0,422.0C159.7,418.8 163.7,414.8 168.0,411.0C172.3,407.2 178.0,402.8 183.0,399.0C188.0,395.2 192.0,392.2 198.0,388.0C204.0,383.8 212.0,378.7 219.0,374.0C226.0,369.3 232.0,365.3 240.0,360.0C248.0,354.7 257.8,347.5 267.0,342.0C276.2,336.5 285.3,332.3 295.0,327.0C304.7,321.7 314.7,315.2 325.0,310.0C335.3,304.8 347.8,299.7 357.0,296.0C366.2,292.3 372.8,290.3 380.0,288.0C387.2,285.7 393.3,284.0 400.0,282.0C405.0,288.0 415.0,295.0 415.0,300.0C415.0,305.0 407.5,308.3 400.0,312.0C392.5,315.7 380.0,318.2 370.0,322.0C360.0,325.8 349.8,330.7 340.0,335.0C330.2,339.3 319.3,343.2 311.0,348.0C302.7,352.8 297.3,358.2 290.0,364.0C282.7,369.8 272.7,377.7 267.0,383.0C261.3,388.3 260.5,392.0 256.0,396.0C251.5,400.0 246.2,403.7 240.0,407.0C233.8,410.3 226.0,413.0 219.0,416.0C212.0,419.0 205.3,421.9 198.0,425.0C190.7,428.1 181.7,432.4 175.0,434.7C168.3,437.0 161.9,439.8 158.0,439.0C154.1,438.2 153.8,433.0 151.7,430.0Z" fill="url(#p3)"/><path d="M151.7,430.0C153.5,427.3 154.3,425.2 157.0,422.0C159.7,418.8 163.7,414.8 168.0,411.0C172.3,407.2 178.0,402.8 183.0,399.0C188.0,395.2 192.0,392.2 198.0,388.0C204.0,383.8 212.0,378.7 219.0,374.0C226.0,369.3 232.0,365.3 240.0,360.0C248.0,354.7 257.8,347.5 267.0,342.0C276.2,336.5 285.3,332.3 295.0,327.0C304.7,321.7 314.7,315.2 325.0,310.0C335.3,304.8 347.8,299.7 357.0,296.0C366.2,292.3 372.8,290.3 380.0,288.0C387.2,285.7 393.3,284.0 400.0,282.0" fill="none" stroke="#2a66ea" stroke-width="1"/><path d="M371.0,298.5 L390.0,293.0 L393.0,296.0 L374.0,301.5Z" fill="#0a58e0" stroke="#2aa0f4" stroke-width="0.6" /><path d="M160,419C156,426 158,434 164,438M166,413C161,422 163,432 170,437M173,407C167,417 169,428 177,435" stroke="#4a90ff" stroke-width="0.6" fill="none" opacity="0.8"/><path d="M240.0,408.0C246.0,405.0 252.2,401.9 258.0,399.0C263.8,396.1 270.0,392.7 275.0,390.5C280.0,388.3 281.3,386.9 288.0,386.0C294.7,385.1 305.8,385.8 315.0,385.0C324.2,384.2 333.7,382.3 343.0,381.0C344.3,389.7 345.7,398.3 347.0,407.0C339.3,412.3 331.7,417.7 324.0,423.0C321.7,420.7 320.5,419.2 317.0,416.0C313.5,412.8 307.2,406.7 303.0,404.0C298.8,401.3 295.8,400.9 292.0,400.0C288.2,399.1 284.0,398.5 280.0,398.5C276.0,398.5 271.9,399.2 268.0,400.0C264.1,400.8 261.4,401.7 256.7,403.0C252.0,404.3 245.6,406.3 240.0,408.0Z" fill="#000094"  /><path d="M318.0,341.0C312.2,337.3 315.3,335.2 322.0,337.0C328.7,338.8 352.2,348.3 358.0,352.0C363.8,355.7 363.7,360.8 357.0,359.0C350.3,357.2 323.8,344.7 318.0,341.0Z" fill="#0505d4" stroke="#2a66ea" stroke-width="0.7" /><path d="M318.0,341.0C312.2,337.3 315.3,335.2 322.0,337.0C328.7,338.8 352.2,348.3 358.0,352.0C363.8,355.7 363.7,360.8 357.0,359.0C350.3,357.2 323.8,344.7 318.0,341.0Z" fill="url(#p30)"/><path d="M316.5,357.5C312.2,355.1 314.4,353.4 319.5,354.5C324.6,355.6 342.8,361.6 347.0,364.0C351.2,366.4 350.1,370.1 345.0,369.0C339.9,367.9 320.8,359.9 316.5,357.5Z" fill="#0830d8" stroke="#2a90f0" stroke-width="0.7" /><path d="M277.0,371.0C277.8,368.2 289.1,364.0 295.0,364.5C300.9,365.0 311.5,371.2 312.5,374.0C313.5,376.8 304.8,379.8 301.0,381.0C297.2,382.2 294.0,383.2 290.0,381.5C286.0,379.8 276.2,373.8 277.0,371.0Z" fill="#0505d4" stroke="#2a66ea" stroke-width="0.7" /><path d="M277.0,371.0C277.8,368.2 289.1,364.0 295.0,364.5C300.9,365.0 311.5,371.2 312.5,374.0C313.5,376.8 304.8,379.8 301.0,381.0C297.2,382.2 294.0,383.2 290.0,381.5C286.0,379.8 276.2,373.8 277.0,371.0Z" fill="url(#p31)"/><circle cx="306.7" cy="366" r="2" fill="#18a8f0"/><circle cx="308" cy="385.5" r="2" fill="#18a8f0"/><circle cx="319" cy="358.5" r="2" fill="#18a8f0"/><g><path d="M464.0,411.0C464.0,413.5 463.9,416.0 463.6,418.4C463.3,420.9 462.9,423.4 462.3,425.8C461.8,428.1 461.1,430.5 460.3,432.8C459.5,435.1 458.5,437.4 457.4,439.5C456.4,441.6 455.2,443.7 453.9,445.7C452.6,447.7 451.2,449.6 449.6,451.3C448.1,453.1 446.5,454.7 444.8,456.2C443.1,457.7 441.3,459.1 439.5,460.4C437.7,461.6 435.7,462.7 433.8,463.7C431.8,464.6 429.7,465.4 427.7,466.1C425.6,466.7 423.5,467.2 421.4,467.5C419.3,467.8 417.1,468.0 415.0,468.0C412.9,468.0 415.6,468.8 408.6,467.5C401.7,466.2 380.2,461.7 373.3,460.1C366.4,458.4 369.2,458.6 367.2,457.7C365.3,456.7 363.3,455.6 361.5,454.4C359.7,453.1 357.9,451.7 356.2,450.2C354.5,448.7 352.9,447.1 351.4,445.3C349.8,443.6 348.4,441.7 347.1,439.7C345.8,437.7 344.6,435.6 343.6,433.5C342.5,431.4 341.5,429.1 340.7,426.8C339.9,424.5 339.2,422.1 338.7,419.8C338.1,417.4 337.7,414.9 337.4,412.4C337.1,410.0 337.0,407.5 337.0,405.0C337.0,402.5 337.1,400.0 337.4,397.6C337.7,395.1 338.1,392.6 338.7,390.2C339.2,387.9 339.9,385.5 340.7,383.2C341.5,380.9 342.5,378.6 343.6,376.5C344.6,374.4 345.8,372.3 347.1,370.3C348.4,368.3 349.8,366.4 351.4,364.7C352.9,362.9 354.5,361.3 356.2,359.8C357.9,358.3 359.7,356.9 361.5,355.6C363.3,354.4 365.3,353.3 367.2,352.3C369.2,351.4 371.3,350.6 373.3,349.9C375.4,349.3 377.5,348.8 379.6,348.5C381.7,348.2 383.9,348.0 386.0,348.0C388.1,348.0 385.4,347.2 392.4,348.5C399.3,349.8 420.8,354.3 427.7,355.9C434.6,357.6 431.8,357.4 433.8,358.3C435.7,359.3 437.7,360.4 439.5,361.6C441.3,362.9 443.1,364.3 444.8,365.8C446.5,367.3 448.1,368.9 449.6,370.7C451.2,372.4 452.6,374.3 453.9,376.3C455.2,378.3 456.4,380.4 457.4,382.5C458.5,384.6 459.5,386.9 460.3,389.2C461.1,391.5 461.8,393.9 462.3,396.2C462.9,398.6 463.3,401.1 463.6,403.6C463.9,406.0 464.0,408.5 464.0,411.0Z" fill="url(#g33)" stroke="#2a66ea" stroke-width="1"/><g clip-path="url(#c32)" fill="none" stroke="#2a64e2" stroke-width="0.65" stroke-opacity="0.8"><ellipse cx="386.0" cy="405.0" rx="49.0" ry="57.0" transform="rotate(0 386.0 405.0)"/><ellipse cx="394.7" cy="406.8" rx="49.0" ry="57.0" transform="rotate(0 394.7 406.8)"/><ellipse cx="403.4" cy="408.6" rx="49.0" ry="57.0" transform="rotate(0 403.4 408.6)"/><ellipse cx="410.6" cy="410.1" rx="49.0" ry="57.0" transform="rotate(0 410.6 410.1)"/><path d="M435.0,405.0L464.0,411.0M434.3,414.4L463.3,420.4M432.3,423.5L461.3,429.5M429.1,432.1L458.1,438.1M424.7,440.0L453.7,446.0M419.2,446.9L448.2,452.9M412.8,452.7L441.8,458.7M405.7,457.2L434.7,463.2M398.0,460.3L427.0,466.3M390.0,461.8L419.0,467.8M382.0,461.8L411.0,467.8M374.0,460.3L403.0,466.3M366.3,457.2L395.3,463.2M359.2,452.7L388.2,458.7M352.8,446.9L381.8,452.9M347.3,440.0L376.3,446.0M342.9,432.1L371.9,438.1M339.7,423.5L368.7,429.5M337.7,414.4L366.7,420.4M337.0,405.0L366.0,411.0M337.7,395.6L366.7,401.6M339.7,386.5L368.7,392.5M342.9,377.9L371.9,383.9M347.3,370.0L376.3,376.0M352.8,363.1L381.8,369.1M359.2,357.3L388.2,363.3M366.3,352.8L395.3,358.8M374.0,349.7L403.0,355.7M382.0,348.2L411.0,354.2M390.0,348.2L419.0,354.2M398.0,349.7L427.0,355.7M405.7,352.8L434.7,358.8M412.8,357.3L441.8,363.3M419.2,363.1L448.2,369.1M424.7,370.0L453.7,376.0M429.1,377.9L458.1,383.9M432.3,386.5L461.3,392.5M434.3,395.6L463.3,401.6"/></g><ellipse cx="415.0" cy="411.0" rx="49.0" ry="57.0" transform="rotate(0 415.0 411.0)" fill="#0202b6" stroke="#2a98f4" stroke-width="1.2" stroke-opacity="0.85"/><ellipse cx="415.0" cy="411.0" rx="45.6" ry="53.0" transform="rotate(0 415.0 411.0)" fill="none" stroke="#2a64e2" stroke-width="0.7" stroke-opacity="1"/><ellipse cx="415.0" cy="411.0" rx="41.6" ry="48.4" transform="rotate(0 415.0 411.0)" fill="none" stroke="#2a64e2" stroke-width="0.7" stroke-opacity="1"/><ellipse cx="415.0" cy="411.0" rx="37.2" ry="43.3" transform="rotate(0 415.0 411.0)" fill="#0202ac" stroke="#2a98f4" stroke-width="1.1" stroke-opacity="1"/><ellipse cx="415.0" cy="411.0" rx="34.3" ry="39.9" transform="rotate(0 415.0 411.0)" fill="none" stroke="#2a64e2" stroke-width="0.7" stroke-opacity="1"/><ellipse cx="415.0" cy="411.0" rx="24.5" ry="28.5" transform="rotate(0 415.0 411.0)" fill="none" stroke="#2a64e2" stroke-width="0.6" stroke-opacity="1"/><ellipse cx="415.0" cy="411.0" rx="16.2" ry="18.8" transform="rotate(0 415.0 411.0)" fill="none" stroke="#2a64e2" stroke-width="0.6" stroke-opacity="1"/><path d="M422.8,411.4L452.2,412.7M422.7,412.8L451.5,419.5M422.4,414.2L449.9,426.0M421.8,415.5L447.5,432.2M421.2,416.6L444.2,437.8M420.3,417.7L440.3,442.8M419.4,418.6L435.7,447.0M418.3,419.3L430.6,450.3M417.1,419.8L425.1,452.7M415.9,420.1L419.4,454.0M414.7,420.1L413.5,454.3M413.5,419.9L407.7,453.5M412.3,419.6L402.1,451.6M411.2,419.0L396.8,448.8M410.1,418.2L391.9,445.0M409.2,417.2L387.7,440.4M408.5,416.1L384.0,435.1M407.9,414.8L381.2,429.1M407.5,413.5L379.2,422.8M407.2,412.1L378.0,416.1M407.2,410.6L377.8,409.3M407.3,409.2L378.5,402.5M407.6,407.8L380.1,396.0M408.2,406.5L382.5,389.8M408.8,405.4L385.8,384.2M409.7,404.3L389.7,379.2M410.6,403.4L394.3,375.0M411.7,402.7L399.4,371.7M412.9,402.2L404.9,369.3M414.1,401.9L410.6,368.0M415.3,401.9L416.5,367.7M416.5,402.1L422.3,368.5M417.7,402.4L427.9,370.4M418.8,403.0L433.2,373.2M419.9,403.8L438.1,377.0M420.8,404.8L442.3,381.6M421.5,405.9L446.0,386.9M422.1,407.2L448.8,392.9M422.5,408.5L450.8,399.2M422.8,409.9L452.0,405.9" fill="none" stroke="#2a64e2" stroke-width="0.6" stroke-opacity="0.8"/><path d="M456.6,414.2L463.9,414.7M454.4,426.6L461.4,429.3M449.6,437.9L455.7,442.7M442.5,447.4L447.3,453.9M433.4,454.5L436.7,462.1M423.1,458.5L424.6,466.9M412.3,459.3L411.8,467.9M401.6,456.9L399.2,465.0M391.9,451.3L387.8,458.4M383.7,442.9L378.2,448.6M377.6,432.4L371.1,436.2M374.2,420.5L366.9,422.1M373.4,407.8L366.1,407.3M375.6,395.4L368.6,392.7M380.4,384.1L374.3,379.3M387.5,374.6L382.7,368.1M396.6,367.5L393.3,359.9M406.9,363.5L405.4,355.1M417.7,362.7L418.2,354.1M428.4,365.1L430.8,357.0M438.1,370.7L442.2,363.6M446.3,379.1L451.8,373.4M452.4,389.6L458.9,385.8M455.8,401.5L463.1,399.9" fill="none" stroke="#2a64e2" stroke-width="0.6" stroke-opacity="0.8"/><ellipse cx="415.0" cy="411.0" rx="7.8" ry="9.1" transform="rotate(0 415.0 411.0)" fill="#0a60d0" stroke="#2aa8f4" stroke-width="0.9" stroke-opacity="1"/><ellipse cx="415.0" cy="411.0" rx="4.4" ry="5.1" transform="rotate(0 415.0 411.0)" fill="#16a0ea" stroke="#0a50c0" stroke-width="0.7" stroke-opacity="1"/></g><path d="M371.0,339.5C371.8,338.2 379.3,336.6 385.0,336.5C390.7,336.4 398.9,337.8 405.0,339.0C411.1,340.2 420.0,341.8 421.5,343.5C423.0,345.2 418.4,348.5 414.0,349.0C409.6,349.5 400.7,347.2 395.0,346.5C389.3,345.8 384.0,345.7 380.0,344.5C376.0,343.3 370.2,340.8 371.0,339.5Z" fill="#0404d2" stroke="#2a66ea" stroke-width="0.8" /><path d="M371.0,339.5C371.8,338.2 379.3,336.6 385.0,336.5C390.7,336.4 398.9,337.8 405.0,339.0C411.1,340.2 420.0,341.8 421.5,343.5C423.0,345.2 418.4,348.5 414.0,349.0C409.6,349.5 400.7,347.2 395.0,346.5C389.3,345.8 384.0,345.7 380.0,344.5C376.0,343.3 370.2,340.8 371.0,339.5Z" fill="url(#p34)"/><path d="M347.0,406.7C348.0,419.5 349.5,434.1 350.0,445.0C350.5,455.9 350.0,463.0 350.0,472.0C344.7,472.7 340.2,472.8 334.0,474.0C327.8,475.2 320.5,475.8 313.0,479.0C305.5,482.2 297.0,488.3 289.0,493.0C289.9,485.3 290.1,476.7 291.7,470.0C293.3,463.3 296.0,458.5 298.7,453.0C301.4,447.5 303.8,442.0 308.0,437.0C312.2,432.0 319.5,426.8 324.0,423.0C328.5,419.2 331.2,416.7 335.0,414.0C338.8,411.3 343.0,409.1 347.0,406.7Z" fill="#0202c2" stroke="#2a66ea" stroke-width="0.9" /><path d="M347.0,406.7C348.0,419.5 349.5,434.1 350.0,445.0C350.5,455.9 350.0,463.0 350.0,472.0C344.7,472.7 340.2,472.8 334.0,474.0C327.8,475.2 320.5,475.8 313.0,479.0C305.5,482.2 297.0,488.3 289.0,493.0C289.9,485.3 290.1,476.7 291.7,470.0C293.3,463.3 296.0,458.5 298.7,453.0C301.4,447.5 303.8,442.0 308.0,437.0C312.2,432.0 319.5,426.8 324.0,423.0C328.5,419.2 331.2,416.7 335.0,414.0C338.8,411.3 343.0,409.1 347.0,406.7Z" fill="url(#p35)"/>
<g fill="none" stroke="#1a06a0" stroke-width="1.9" stroke-linejoin="miter"><polyline points="341,92.9 483,92.9 600,209.9"/><polyline points="400.5,148.9 466,148.9 531,213.9"/><polyline points="599.2,100.8 698.5,100.8 741,143.3"/><polyline points="576,161 671,161 683,173"/><polyline points="259,226.9 401.5,226.9 422,247.4"/><polyline points="87,330 166,330"/><polyline points="195,330 206,330"/><polyline points="419.5,507 516,507 449,440"/><polyline points="554.2,460 628.7,460 565,396.3"/><polyline points="697,412 774,412 713,351"/><polyline points="740.4,480.9 861.2,480.9 726,345.7"/></g>
<path d="M356.8,271V304" stroke="#bfe8ff" stroke-width="0.9" fill="none"/>
<g fill="none" stroke="#fff" stroke-width="1.6" stroke-linecap="butt"><polyline points="592.5,201.3 651.3,261.3"/><polyline points="528.8,211.3 537.5,220"/><polyline points="739.5,141.5 747.5,149.5"/><polyline points="682.5,172 756,246"/><polyline points="420,245.5 437.5,263"/><polyline points="165,330 195.3,330"/><polyline points="205.5,330 267.5,330"/><polyline points="346.5,339 450,442.5"/><polyline points="493.8,326 566.3,398.6"/><polyline points="603.8,243.3 713.8,353.3"/><polyline points="717.8,338.5 727.3,348"/></g>
</svg>
<div id="labels"><div class="lb" style="left:340.80px;top:53.90px;letter-spacing:-0.250px">HIGH PRESSURE</div><div class="lb" style="left:340.80px;top:69.70px;letter-spacing:-0.209px">Fuel Filters</div><div class="lb" style="left:401.00px;top:111.00px;letter-spacing:-0.460px">ENGINE</div><div class="lb" style="left:400.60px;top:126.80px;letter-spacing:-0.100px">Air Filter</div><div class="lb" style="left:599.80px;top:77.80px;letter-spacing:-0.177px">DRS Oil Filter</div><div class="lb" style="left:576.00px;top:122.20px;letter-spacing:0.200px">Last Chance</div><div class="lb" style="left:576.30px;top:138.00px;letter-spacing:-0.230px">Oil Filters</div><div class="lb" style="left:258.90px;top:203.80px;letter-spacing:-0.127px">ERS Water Filter</div><div class="lb" style="left:87.75px;top:274.60px;letter-spacing:-0.125px">POWER</div><div class="lb" style="left:87.40px;top:290.60px;letter-spacing:-0.200px">STEERING</div><div class="lb" style="left:88.20px;top:306.70px;letter-spacing:-0.189px">Oil Filter</div><div class="lb" style="left:419.00px;top:511.75px;letter-spacing:-0.188px">HYDRAULIC</div><div class="lb" style="left:419.50px;top:528.00px;letter-spacing:-0.300px">Oil Filters</div><div class="lb" style="left:553.75px;top:465.50px;letter-spacing:0.042px">COOLING</div><div class="lb" style="left:553.75px;top:481.75px;letter-spacing:-0.188px">Water Filters</div><div class="lb" style="left:696.90px;top:416.25px;letter-spacing:-0.380px">ENGINE</div><div class="lb" style="left:697.50px;top:432.30px;letter-spacing:-0.270px">Oil Filters</div><div class="lb" style="left:739.40px;top:485.40px;letter-spacing:-0.173px">LOW PRESSURE</div><div class="lb" style="left:739.40px;top:501.70px;letter-spacing:-0.200px">Fuel Filters</div></div>
</body></html>
